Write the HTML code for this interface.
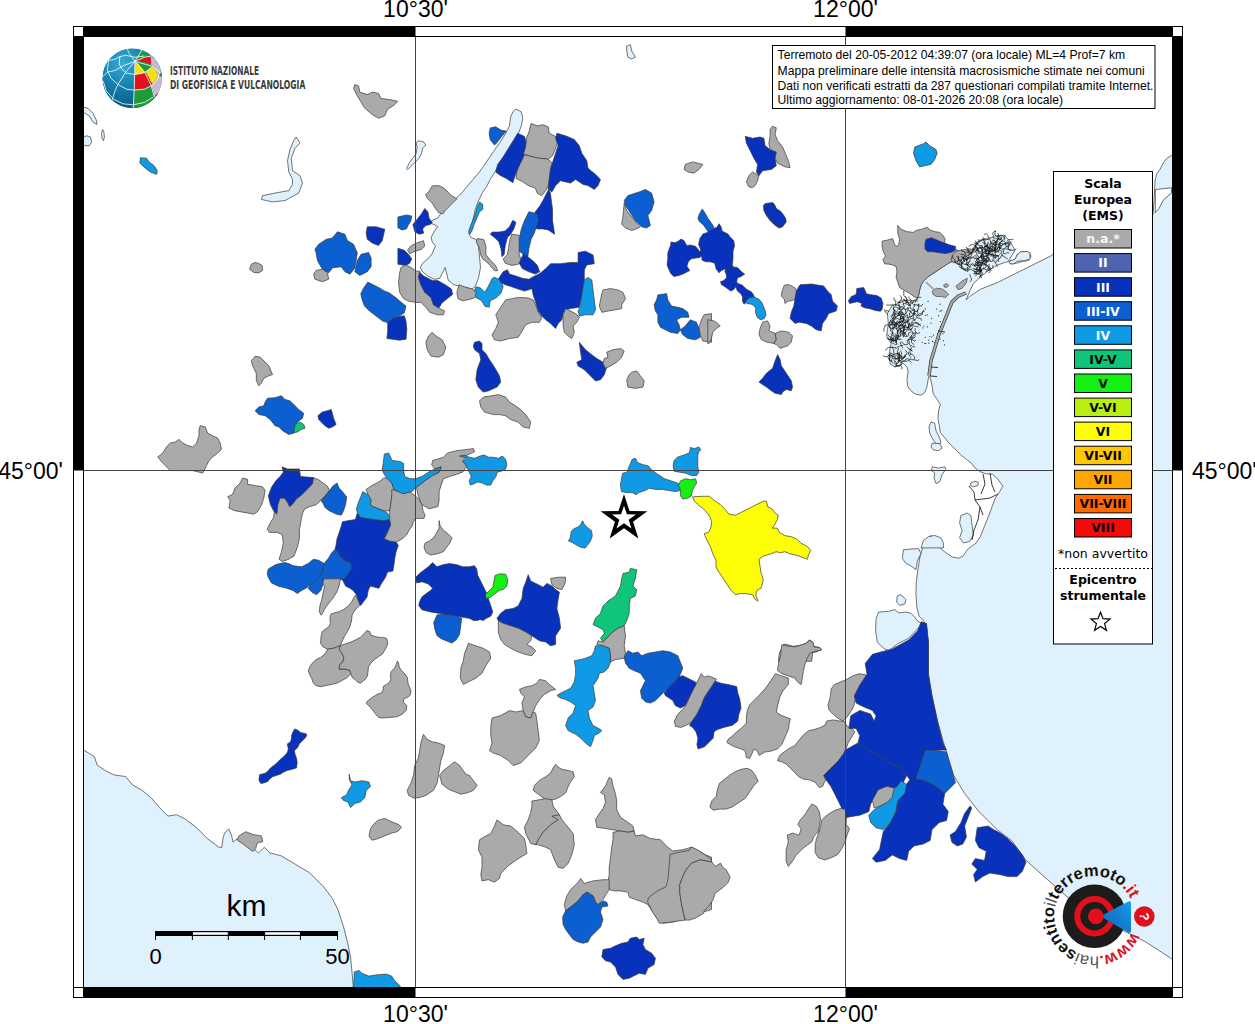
<!DOCTYPE html>
<html><head><meta charset="utf-8"><style>
html,body{margin:0;padding:0;background:#fff;width:1255px;height:1024px;overflow:hidden}
svg{position:absolute;left:0;top:0}
.na{fill:#aaaaaa}.ii{fill:#4f64b0}.iii{fill:#0832bc}.iii_iv{fill:#0c5fd0}.iv{fill:#109ae5}
.iv_v{fill:#10c47a}.v{fill:#14ef14}.v_vi{fill:#b9ef10}.vi{fill:#fdfd06}.lake,.sea{fill:#dff1fc}
#polys polygon,#sea polygon{stroke:#3a3a3a;stroke-width:0.7;stroke-linejoin:round}
.lab{font-family:"Liberation Sans",Arial,sans-serif;font-size:23px;fill:#000}
.dv{font-family:"DejaVu Sans",sans-serif}
.lg{font-family:"DejaVu Sans",sans-serif;font-size:12.5px;fill:#000}
</style></head><body>
<svg width="1255" height="1024" viewBox="0 0 1255 1024">
<defs><clipPath id="mc"><rect x="84" y="37" width="1088" height="950"/></clipPath></defs>
<g clip-path="url(#mc)">
<g id="sea">
<polygon class="sea" points="1185.0,140.0 1172.0,155.0 1166.5,158.7 1163.2,163.0 1160.0,169.4 1156.8,173.7 1155.1,180.1 1154.0,200.0 1153.0,215.0 1120.0,235.0 1080.0,248.0 1053.0,254.0 1050.4,256.1 1032.8,264.9 1015.3,273.6 997.8,282.4 980.2,289.4 969.7,296.4 966.2,299.9 969.7,291.2 973.2,284.1 980.2,277.1 989.0,270.1 997.8,264.9 1008.3,261.4 1015.0,250.0 1009.2,240.3 1003.9,235.1 990.8,237.7 976.7,242.1 975.0,249.1 966.2,256.1 959.2,257.8 954.0,260.5 948.7,263.1 943.4,266.6 938.2,270.1 932.9,273.6 927.6,277.1 924.1,280.6 921.5,284.1 919.8,289.4 918.9,294.7 917.1,298.2 917.3,301.1 910.3,300.2 899.7,301.1 896.2,304.6 892.7,304.6 887.4,313.4 888.3,323.9 886.6,336.2 891.0,343.3 889.2,353.8 890.1,364.3 891.7,364.7 895.2,367.0 903.4,363.5 907.0,367.0 908.1,371.7 907.0,378.8 907.5,385.8 910.5,390.5 915.2,394.0 921.0,395.2 924.5,392.8 926.9,387.0 928.1,379.9 929.2,374.1 929.8,376.4 931.6,383.4 933.3,394.0 937.4,399.9 940.4,404.5 938.6,410.4 938.0,418.6 939.2,425.6 940.4,432.7 944.5,437.4 948.0,442.1 952.7,446.7 957.4,451.4 962.1,456.1 966.7,459.6 971.4,463.2 974.9,467.8 979.6,471.4 985.5,473.7 992.5,474.3 997.5,478.7 1002.9,486.2 999.6,491.6 995.3,498.0 992.1,506.6 988.9,515.2 984.6,525.9 980.3,536.7 976.0,543.1 971.7,546.3 967.4,549.6 963.1,556.0 958.8,558.2 952.4,557.1 945.9,552.8 939.5,547.4 935.2,538.8 930.9,535.6 926.6,538.8 923.4,545.3 920.1,556.0 918.0,568.9 916.3,581.8 915.9,594.7 916.9,607.6 919.1,616.2 923.4,620.5 926.6,626.9 927.7,637.6 928.4,641.7 928.4,674.2 932.0,695.9 937.5,721.2 944.7,746.5 953.7,775.4 964.6,793.5 979.0,811.6 997.1,829.6 1011.6,840.5 1026.0,860.4 1044.1,876.6 1073.0,901.9 1109.2,923.6 1145.3,941.7 1170.6,958.0 1172.4,959.8 1185.0,962.0"/>
<polygon class="sea" points="80.0,749.6 83.0,749.6 94.3,756.6 97.2,765.1 105.7,770.8 114.2,775.0 125.5,776.5 132.6,785.0 142.5,790.6 151.0,797.7 159.5,807.6 168.0,816.1 176.5,814.7 185.0,818.9 196.3,827.4 207.6,838.8 218.9,847.3 221.8,847.3 223.0,838.0 224.6,833.1 228.8,828.9 231.7,835.9 233.0,842.0 237.3,838.8 247.3,844.4 258.6,852.9 264.3,847.3 270.0,852.9 281.2,855.8 295.4,864.3 309.6,872.8 323.7,886.9 332.2,898.2 337.9,909.6 343.5,926.6 347.8,943.6 350.6,957.7 352.0,971.9 353.5,990.0 80.0,990.0"/>
</g>
<g id="polys">
<polygon class="lake" points="296.2,137.0 300.0,143.2 295.0,148.2 291.3,158.2 292.5,170.7 300.0,175.7 302.5,183.1 298.7,193.1 285.0,200.6 272.5,201.9 261.3,199.4 262.6,195.6 275.0,193.1 288.8,190.6 292.5,184.4 292.5,179.4 288.8,171.9 287.5,160.7 290.0,149.5 293.7,140.7"/>
<polygon class="lake" points="83.0,107.1 88.0,108.3 93.0,113.3 96.7,120.8 96.7,124.5 93.0,122.0 89.2,115.8 83.0,112.1"/>
<polygon class="lake" points="83.0,137.0 86.7,135.8 90.5,137.0 91.7,142.0 89.2,145.7 84.2,145.7 83.0,143.2"/>
<polygon class="lake" points="102.5,129.5 103.9,132.0 104.4,137.0 103.5,140.7 102.0,138.3 101.5,133.3"/>
<polygon class="lake" points="516.0,109.0 521.3,111.8 522.8,118.3 521.3,125.8 518.1,134.4 513.8,141.9 507.4,151.5 500.9,162.3 495.6,170.9 490.2,179.5 487.0,185.9 482.7,192.3 478.4,200.9 475.2,209.5 473.0,220.3 470.9,228.9 468.7,233.2 470.9,237.4 476.2,239.6 478.4,246.0 479.5,256.8 480.5,267.5 478.4,278.3 475.2,286.8 471.9,289.0 462.3,286.8 453.7,284.7 448.3,280.4 446.2,271.8 445.1,267.5 443.0,271.8 439.7,278.3 434.4,279.3 427.9,276.1 422.6,271.8 420.4,267.5 422.6,263.2 427.9,258.9 432.2,253.6 435.4,246.0 432.2,241.7 431.1,237.4 434.4,231.0 437.6,226.7 434.4,224.6 431.1,223.5 432.2,220.3 437.6,218.1 443.0,210.6 448.3,205.2 453.7,200.9 458.0,196.6 462.3,192.3 466.6,187.0 473.0,179.5 479.5,171.9 484.8,164.4 489.1,158.0 493.4,151.5 498.8,144.0 505.2,134.4 509.5,125.8 510.6,117.2 512.8,111.8"/>
<polygon class="lake" points="418.3,140.8 423.6,141.9 425.8,145.1 422.6,148.3 421.5,153.7 419.3,158.0 416.1,161.2 412.9,164.4 407.5,169.8 406.4,168.7 409.7,162.3 412.9,158.0 416.1,153.7 417.2,147.2 416.1,143.0"/>
<polygon class="lake" points="626.7,46.0 630.4,44.7 631.7,51.0 635.4,57.2 631.7,58.9 627.9,57.2 626.7,51.0"/>
<polygon class="lake" points="1009.2,261.4 1015.3,259.6 1017.1,254.3 1022.3,251.7 1029.3,252.6 1031.1,256.1 1028.4,260.5 1022.3,261.4 1017.1,263.1 1011.8,264.0"/>
<polygon class="lake" points="931.0,421.9 934.7,423.2 936.0,430.7 939.7,438.1 940.9,443.1 937.2,444.4 933.5,440.6 929.7,433.2 929.0,426.9"/>
<polygon class="lake" points="932.2,443.1 939.7,443.6 942.2,448.1 938.5,450.6 933.5,450.1 931.0,446.9"/>
<polygon class="lake" points="932.2,466.8 938.5,468.1 944.7,466.8 945.9,469.3 942.2,474.3 939.7,481.8 936.0,483.5 934.0,478.1 934.7,473.1 931.5,470.6"/>
<polygon class="lake" points="960.9,515.5 967.1,513.0 970.9,515.5 972.1,525.4 973.4,535.4 969.6,541.6 963.4,542.9 959.6,537.9 962.1,530.4 959.6,522.9"/>
<polygon class="lake" points="923.5,540.4 928.5,536.7 934.7,535.4 940.9,537.9 943.4,542.9 943.4,547.9 921.0,547.9"/>
<polygon class="lake" points="970.9,483.0 974.6,481.3 978.4,482.3 977.9,485.5 973.4,486.8 970.4,485.5"/>
<polygon class="lake" points="878.6,612.1 888.6,611.3 894.8,609.6 898.5,612.8 906.0,612.1 911.0,613.3 914.8,617.1 917.3,620.8 922.2,623.8 908.5,638.3 898.5,643.3 888.6,650.7 883.6,648.3 877.3,642.0 875.6,630.8 876.1,618.3"/>
<polygon class="lake" points="897.3,595.9 901.0,594.6 906.0,599.6 904.8,603.9 899.8,605.4 896.6,602.1"/>
<polygon class="lake" points="903.5,549.7 918.5,548.5 921.0,553.5 917.3,561.0 916.0,569.7 911.0,566.0 906.0,563.5 902.3,558.5"/>
<polygon class="iv" points="140.4,157.7 146.6,158.2 149.1,161.9 154.1,165.7 157.3,170.7 156.6,174.4 150.3,171.9 145.4,168.2 139.9,163.2"/>
<polygon class="na" points="354.8,84.6 358.6,85.9 359.8,92.1 367.3,94.6 372.3,92.1 378.5,93.4 381.0,98.4 389.8,99.6 397.7,101.3 394.8,104.6 387.3,109.6 384.8,115.8 378.5,118.3 372.3,114.6 364.8,108.3 357.3,95.9 353.6,88.4"/>
<polygon class="na" points="251.3,264.2 255.1,262.5 258.8,263.5 262.1,265.5 262.6,270.4 258.8,272.9 253.8,272.4 249.6,269.2"/>
<polygon class="iii_iv" points="337.4,231.8 344.9,234.3 347.4,240.5 353.6,244.3 357.3,253.0 356.1,260.5 354.8,267.9 349.9,274.2 344.9,271.7 341.1,266.7 332.4,267.9 328.7,272.9 322.4,269.2 317.4,260.5 316.2,253.0 314.9,249.2 318.7,244.3 326.2,239.3 332.4,238.0"/>
<polygon class="iii_iv" points="361.1,254.2 368.6,252.5 371.1,258.0 371.1,266.7 367.3,271.7 359.8,275.4 354.8,271.7 357.3,260.5"/>
<polygon class="iii" points="367.3,226.8 376.0,226.8 384.8,229.3 382.3,240.5 378.5,245.5 372.3,243.0 367.3,239.3 366.1,233.0"/>
<polygon class="na" points="316.2,270.4 322.4,269.2 327.4,272.9 328.7,279.2 322.4,281.7 314.9,279.2 313.7,274.2"/>
<polygon class="na" points="432.2,185.9 438.7,185.5 444.0,188.1 448.3,192.3 451.5,195.6 456.9,198.8 453.7,202.0 449.4,206.3 445.1,210.6 443.0,213.8 438.7,212.8 435.4,208.5 432.2,203.1 426.8,197.7 425.8,194.5 429.0,191.3"/>
<polygon class="iii_iv" points="490.2,127.9 495.6,126.8 500.9,130.1 506.3,131.1 500.9,137.6 496.6,143.0 494.5,145.1 490.2,139.7 489.1,133.3"/>
<polygon class="iii" points="517.7,133.3 524.6,136.5 526.3,143.0 525.0,151.5 523.5,156.9 520.3,164.4 516.0,173.0 512.8,182.7 506.3,178.4 499.9,175.2 495.6,171.9 497.7,164.4 503.1,156.9 508.5,148.3 513.8,139.7"/>
<polygon class="na" points="531.0,123.6 537.4,125.8 542.8,124.7 548.2,126.8 549.3,133.3 555.7,136.5 557.9,140.8 555.7,148.3 552.5,155.8 548.2,159.1 537.4,158.0 528.9,155.8 523.5,153.7 525.6,147.2 526.7,137.6 528.9,132.2"/>
<polygon class="na" points="524.6,154.8 537.4,158.0 548.2,159.1 552.5,163.4 551.4,170.9 550.3,178.4 548.2,185.9 546.0,190.2 541.7,195.6 537.4,193.4 535.3,188.1 528.9,185.9 522.4,181.6 516.0,178.4 517.0,170.9 520.3,163.4"/>
<polygon class="iii" points="548.2,190.2 550.3,192.3 551.4,200.9 552.5,209.5 552.5,220.3 554.6,234.2 548.2,229.9 542.8,228.9 537.4,228.9 533.2,226.7 534.2,218.1 535.3,211.7 539.6,206.3 543.9,198.8"/>
<polygon class="iii_iv" points="528.9,211.7 537.4,213.8 538.5,220.3 536.4,226.7 534.2,233.2 531.0,239.6 528.9,248.2 527.8,256.8 523.5,254.6 518.1,250.3 519.2,239.6 521.3,228.9 524.6,220.3"/>
<polygon class="iv" points="479.5,202.0 482.7,204.2 482.7,209.5 479.5,211.7 477.3,217.0 474.1,224.6 471.9,231.0 469.8,234.2 468.7,231.0 471.9,222.4 475.2,213.8 477.3,206.3"/>
<polygon class="iii" points="512.8,220.3 516.0,222.4 513.8,228.9 510.6,234.2 507.4,237.4 505.2,246.0 504.2,254.6 502.0,256.8 500.9,248.2 498.8,241.7 494.5,237.4 490.2,234.2 492.3,232.1 498.8,232.1 505.2,231.0 509.5,226.7"/>
<polygon class="na" points="511.7,234.2 519.2,235.3 519.2,246.0 519.2,254.6 521.3,260.0 518.1,264.3 511.7,265.4 505.2,263.2 503.1,258.9 507.4,254.6 508.5,248.2 509.5,241.7"/>
<polygon class="iii" points="523.5,253.6 527.8,256.8 533.2,261.1 537.4,265.4 539.6,271.8 535.3,274.0 528.9,271.8 522.4,268.6 519.2,263.2"/>
<polygon class="na" points="477.3,238.5 483.8,239.6 485.9,246.0 485.9,254.6 490.2,260.0 495.6,265.4 497.7,270.7 494.5,270.7 488.1,263.2 482.7,258.9 480.5,254.6 479.5,248.2 476.2,241.7"/>
<polygon class="iv" points="494.5,277.2 500.9,280.4 503.1,286.8 500.9,293.3 496.6,297.6 490.2,300.8 489.1,307.2 484.8,306.2 481.6,300.8 476.2,297.6 474.1,291.1 476.2,286.8 480.5,287.9 484.8,292.2 488.1,286.8 490.2,282.6 492.3,278.3"/>
<polygon class="iii" points="503.1,271.8 507.4,269.7 509.5,274.0 516.0,276.1 522.4,278.3 528.9,279.3 534.2,280.4 537.4,284.7 531.0,289.0 524.6,291.1 518.1,289.0 511.7,286.8 505.2,284.7 500.9,282.6 498.8,278.3"/>
<polygon class="na" points="459.1,284.7 464.4,286.8 471.9,289.0 476.2,292.2 475.2,297.6 468.7,299.7 462.3,300.8 458.0,298.7 456.9,292.2"/>
<polygon class="iii" points="419.3,271.8 423.6,276.1 432.2,280.4 437.6,280.4 445.1,284.7 451.5,289.0 452.6,294.4 447.2,298.7 441.9,303.0 438.7,308.3 434.4,306.2 430.1,301.9 425.8,297.6 420.4,294.4 419.3,286.8 416.1,280.4 417.2,274.0"/>
<polygon class="iii" points="424.7,208.5 427.9,211.7 429.0,218.1 432.2,222.4 430.1,224.6 425.8,225.6 422.6,228.9 423.6,233.2 419.3,234.2 415.0,232.1 412.9,224.6 417.2,219.2 421.5,213.8"/>
<polygon class="iii_iv" points="402.1,216.0 406.4,214.9 411.8,216.0 410.7,221.3 408.6,224.6 406.4,228.9 402.1,229.9 397.9,227.8 397.9,217.0"/>
<polygon class="na" points="410.7,246.0 417.2,242.8 423.6,240.7 424.7,246.0 421.5,249.3 415.0,251.4 409.7,253.6 407.5,250.3"/>
<polygon class="iii" points="397.9,248.2 404.3,250.3 408.6,254.6 411.8,258.9 409.7,263.2 405.4,265.4 397.9,264.3"/>
<polygon class="iii" points="578.1,252.5 585.5,251.2 593.0,255.0 594.3,263.7 586.8,264.9 584.3,269.9 584.3,279.9 581.8,294.9 579.3,307.3 570.6,308.6 565.6,309.8 563.1,313.6 561.9,319.8 558.1,323.5 555.6,328.5 550.6,323.5 545.6,319.8 541.9,316.1 538.2,311.1 535.7,302.4 533.2,294.9 531.9,288.6 525.7,284.9 524.4,282.4 531.9,277.4 539.4,273.7 545.6,268.7 550.6,263.7 560.6,263.7 570.6,262.4 578.1,262.4"/>
<polygon class="iv" points="588.0,277.4 591.8,279.9 593.0,289.9 594.3,299.9 595.5,309.8 593.0,314.8 585.5,314.8 579.3,316.1 578.1,311.1 580.6,306.1 581.8,294.9 584.3,279.9"/>
<polygon class="na" points="603.0,289.9 610.5,288.6 618.0,289.9 623.0,292.4 625.5,298.6 621.7,304.8 621.7,308.6 615.5,309.8 608.0,311.1 601.8,312.3 599.3,306.1 600.5,299.9 601.8,293.6"/>
<polygon class="na" points="505.7,299.9 518.2,297.4 528.2,297.9 533.2,299.9 535.7,304.8 538.2,312.3 541.9,317.3 539.4,322.3 531.9,322.3 525.7,324.8 520.7,333.5 518.2,337.3 509.5,338.5 500.7,341.0 494.5,339.8 492.0,334.8 495.8,328.5 498.3,322.3 495.8,314.8 500.7,307.3 503.2,303.6"/>
<polygon class="na" points="565.6,308.6 570.6,311.1 575.6,313.6 579.3,317.3 576.8,322.3 573.1,326.0 574.3,332.3 571.8,338.5 568.1,336.0 564.3,332.3 563.1,324.8 563.1,314.8"/>
<polygon class="na" points="401.0,267.4 406.0,264.9 411.0,267.4 416.0,271.2 419.7,271.2 418.4,277.4 420.9,284.9 424.7,292.4 430.9,297.4 433.4,304.8 439.6,308.6 444.6,311.1 443.4,314.8 437.2,314.8 429.7,312.3 425.9,307.3 420.9,302.4 416.0,302.4 408.5,301.1 403.5,298.6 399.7,292.4 398.5,282.4 399.7,272.4"/>
<polygon class="na" points="432.2,332.3 435.9,336.0 442.1,339.8 445.9,347.2 443.4,354.7 438.4,357.2 430.9,356.0 427.2,349.7 425.9,342.3 428.4,336.0"/>
<polygon class="iii" points="474.6,342.3 479.5,341.0 482.0,343.5 482.0,349.7 485.8,353.5 489.5,359.7 494.5,367.2 499.5,375.9 500.7,382.2 497.0,387.1 488.3,390.9 483.3,392.1 478.3,387.1 475.8,379.7 477.1,369.7 480.8,359.7 479.5,353.5 474.6,349.7 473.3,346.0"/>
<polygon class="na" points="483.3,397.1 490.8,395.9 498.3,394.6 505.7,397.1 509.5,402.1 515.7,405.9 520.7,409.6 525.7,414.6 530.7,422.1 529.4,428.3 523.2,427.1 518.2,422.1 510.7,419.6 505.7,415.8 499.5,414.6 493.3,414.6 484.5,412.1 480.8,407.1 479.5,400.9"/>
<polygon class="iii" points="579.3,342.3 585.5,349.7 591.8,354.7 596.8,358.5 603.0,362.2 606.7,367.2 604.3,374.7 600.5,379.7 595.5,380.9 590.5,375.9 584.3,369.7 578.1,365.9 576.8,362.2 581.8,359.7 580.6,352.2"/>
<polygon class="na" points="606.7,352.2 613.0,349.7 620.5,348.5 624.2,351.0 621.7,357.2 616.7,362.2 610.5,365.9 605.5,368.4 603.0,363.5 604.3,358.5 608.0,357.2"/>
<polygon class="na" points="631.7,372.2 636.7,370.9 640.4,375.9 644.2,380.9 642.9,387.1 635.4,388.4 627.9,387.1 626.7,379.7 629.2,374.7"/>
<polygon class="iii_iv" points="657.9,294.9 666.6,293.6 667.8,299.9 671.6,306.1 677.8,307.3 682.8,308.6 687.8,312.3 689.0,317.3 681.6,317.3 676.6,319.8 679.1,324.8 680.3,329.8 677.8,333.5 670.3,332.3 665.4,329.8 660.4,327.3 657.9,322.3 657.9,314.8 655.4,311.1 654.1,304.8 656.6,299.9"/>
<polygon class="iii_iv" points="690.3,319.8 696.5,322.3 699.0,328.5 700.3,337.3 695.3,339.8 687.8,338.5 682.8,334.8 680.3,329.8 685.3,326.0"/>
<polygon class="na" points="704.0,314.8 711.5,313.6 711.5,342.3 702.8,341.0 700.3,334.8 699.0,327.3 701.5,319.8"/>
<polygon class="iii" points="556.9,133.3 565.6,135.8 574.3,139.5 579.3,145.7 581.8,153.2 586.8,160.7 588.0,168.2 595.5,174.4 600.5,179.4 598.0,185.6 594.3,189.4 588.0,185.6 583.1,184.4 575.6,179.4 570.6,183.1 565.6,181.9 560.6,180.7 555.6,185.6 551.9,191.9 548.1,189.4 549.4,176.9 550.6,168.2 553.1,160.7 555.6,153.2 558.1,145.7 555.6,138.3"/>
<polygon class="na" points="624.2,203.1 626.7,210.6 631.7,216.8 636.7,223.1 640.4,226.8 635.4,229.3 631.7,230.5 625.5,228.0 621.7,224.3 623.0,215.6"/>
<polygon class="iii_iv" points="627.9,195.6 639.2,191.9 645.4,189.4 651.6,193.1 654.1,201.9 651.6,210.6 647.9,215.6 650.4,225.5 646.6,228.0 641.7,226.8 635.4,220.6 630.4,213.1 625.5,205.6 624.2,200.6"/>
<polygon class="na" points="685.3,164.4 692.8,161.9 702.8,164.4 699.0,169.4 694.0,173.2 687.8,171.9 684.1,169.4"/>
<polygon class="iii" points="745.2,136.3 752.6,138.3 760.1,137.0 763.9,138.3 765.1,145.7 770.1,149.5 776.3,152.0 775.1,158.2 776.3,165.7 771.4,169.4 762.6,170.7 758.9,175.7 756.4,171.9 757.6,164.4 753.9,158.2 750.2,150.7 746.4,143.2"/>
<polygon class="na" points="772.6,126.3 776.3,127.8 775.1,134.5 777.6,140.7 782.6,147.0 786.3,155.7 788.8,161.9 790.1,167.7 785.1,166.9 777.6,163.2 775.1,158.2 776.3,152.0 770.1,149.5 768.9,143.2 770.1,135.8 770.1,129.5"/>
<polygon class="na" points="752.6,171.9 758.9,175.7 757.6,180.7 755.1,185.6 752.6,187.6 748.9,186.9 746.4,181.9 748.9,175.7"/>
<polygon class="iii" points="765.1,203.6 772.6,202.6 775.1,205.6 776.3,210.6 781.3,214.3 785.1,218.1 786.3,221.8 782.6,226.8 778.8,228.0 773.8,224.3 770.1,220.6 766.4,215.6 763.9,210.6 763.4,205.6"/>
<polygon class="iv" points="914.8,147.0 923.5,143.7 926.0,142.0 929.7,145.7 936.0,149.5 937.2,153.2 934.7,159.5 931.0,164.4 924.7,165.7 919.7,166.9 916.0,160.7 913.5,153.2"/>
<polygon class="na" points="897.8,225.4 900.5,228.9 906.6,231.6 913.6,232.4 915.4,230.7 922.4,228.9 927.6,227.2 929.4,229.8 934.7,231.6 939.9,232.4 943.4,235.9 945.2,239.4 944.3,242.9 952.2,246.5 955.7,249.1 959.2,251.7 966.2,250.8 971.5,250.0 975.0,249.1 973.2,252.6 966.2,256.1 959.2,257.8 953.9,260.5 948.7,263.1 943.4,266.6 938.2,270.1 932.9,273.6 927.6,277.1 924.1,280.6 921.5,284.1 919.8,289.4 918.9,294.7 917.1,298.2 913.6,296.4 909.2,292.9 904.0,290.3 899.6,287.6 897.8,282.4 896.1,277.1 897.0,271.9 896.1,266.6 892.6,264.9 888.2,264.0 884.7,264.0 882.9,259.6 885.6,256.1 882.9,250.8 882.1,244.7 882.1,241.2 886.5,240.3 890.0,239.4 892.6,238.6 894.3,243.8 896.1,246.5 898.7,244.7 899.6,239.4 897.8,233.3"/>
<polygon class="iii" points="925.9,239.4 931.2,237.7 935.5,239.4 941.7,242.1 948.7,244.7 955.7,246.5 954.8,250.8 950.4,252.6 945.2,253.5 938.2,252.6 932.9,251.7 927.6,251.7 925.0,249.1 925.0,243.8"/>
<polygon class="iii" points="856.7,288.5 863.7,287.6 865.4,291.2 866.3,293.8 870.7,294.7 876.8,295.5 881.2,298.2 882.9,303.4 882.1,309.6 880.3,311.3 875.1,310.4 869.8,308.7 864.5,307.8 861.0,306.1 861.9,303.4 857.5,301.7 854.0,302.5 849.6,303.4 848.4,300.8 851.4,296.4 855.8,294.7 856.7,291.2"/>
<polygon class="iii_iv" points="702.2,209.0 704.4,212.0 708.1,218.6 711.8,223.7 714.0,227.3 711.8,230.3 708.8,233.2 706.6,229.5 703.0,224.4 699.3,221.5 697.9,218.6 699.3,214.2"/>
<polygon class="iii" points="719.1,223.7 721.3,227.3 722.0,231.0 724.9,232.5 727.9,233.9 730.1,236.9 733.7,240.5 734.5,245.7 733.0,251.5 733.0,258.8 732.3,264.7 733.7,269.1 729.3,269.8 724.9,269.1 721.3,270.6 719.1,272.8 716.2,269.1 714.7,263.2 710.3,261.8 705.9,261.8 702.2,260.3 701.5,255.9 698.6,254.4 700.8,250.0 698.6,244.2 700.0,238.3 703.0,233.9 707.4,232.5 710.3,231.0 713.2,228.8 716.9,227.3"/>
<polygon class="iii" points="670.8,242.0 675.2,242.7 678.1,241.3 681.0,239.1 683.9,240.5 686.9,245.7 690.5,244.9 695.7,246.4 698.6,250.0 701.5,254.4 700.0,257.4 695.7,258.1 691.3,258.8 688.3,261.8 686.9,266.2 689.8,270.6 686.9,272.0 682.5,274.2 678.1,275.7 673.7,276.4 670.8,273.5 668.6,269.1 667.1,264.7 667.8,258.8 667.8,253.0 669.3,248.6 670.8,244.9"/>
<polygon class="iii" points="726.4,267.6 730.8,268.4 733.7,266.9 737.4,267.6 741.1,271.3 744.7,274.2 741.1,276.4 737.4,277.9 736.7,281.5 738.1,284.5 735.9,286.7 733.7,289.6 730.8,291.1 727.9,288.9 724.9,286.7 721.3,284.5 720.6,281.5 723.5,280.8 726.4,277.9 726.4,274.9 724.9,271.3"/>
<polygon class="iii" points="738.1,283.7 741.1,284.5 744.0,286.7 746.9,289.6 751.3,291.8 753.5,294.7 754.2,297.6 749.8,299.1 747.6,301.3 744.0,304.2 742.5,301.3 742.5,296.9 741.1,294.0 737.4,291.1 735.9,286.7"/>
<polygon class="iv" points="749.8,297.6 754.2,296.9 758.6,299.1 761.6,302.0 763.8,307.2 765.2,310.8 766.0,315.2 763.8,318.9 760.1,319.6 757.2,317.4 755.7,313.0 755.7,308.6 754.2,305.7 751.3,304.2 746.9,303.5 745.5,301.3"/>
<polygon class="iii" points="766.0,204.6 768.9,203.5 773.3,203.2 774.7,206.1 776.9,209.0 780.6,211.2 783.5,214.9 785.7,218.6 785.7,222.2 782.8,224.4 780.6,227.3 778.4,226.6 774.7,223.0 771.8,220.8 768.9,216.4 766.0,213.4 764.2,208.3"/>
<polygon class="na" points="784.3,285.2 787.9,284.5 791.6,285.9 795.2,288.1 796.7,291.1 796.0,298.4 792.3,300.6 787.9,301.3 785.0,303.5 784.3,299.1 781.3,296.2 782.1,291.1"/>
<polygon class="iii" points="800.0,284.8 811.3,284.0 823.7,286.0 827.5,291.0 831.2,294.7 832.5,301.0 837.4,306.0 836.2,311.0 828.7,313.4 826.2,318.4 822.5,323.4 821.2,330.9 816.2,329.7 811.3,325.9 806.3,323.4 798.8,322.2 795.0,323.4 790.1,318.4 791.3,312.2 793.8,306.0 795.0,298.5 796.3,291.0"/>
<polygon class="na" points="762.6,322.2 767.6,320.9 770.1,325.9 768.9,330.9 775.1,333.4 776.3,339.6 773.8,343.4 766.4,342.1 761.4,339.6 758.9,334.6 760.1,328.4"/>
<polygon class="na" points="775.1,333.4 781.3,330.9 788.8,332.2 792.5,335.9 791.3,342.1 787.6,345.9 783.8,347.1 780.1,348.4 776.3,344.6 773.8,343.4 776.3,339.6"/>
<polygon class="na" points="707.8,319.7 714.0,320.9 717.7,323.4 720.2,325.9 716.5,328.4 712.7,332.2 711.5,338.4 709.0,343.4 707.8,343.4"/>
<polygon class="iii" points="777.6,354.6 780.1,359.6 781.3,365.8 786.3,373.3 791.3,380.8 792.5,387.0 791.3,390.8 786.3,389.5 782.6,392.0 781.3,394.5 775.1,393.3 771.4,390.8 766.4,387.0 762.6,384.5 758.9,382.0 762.6,378.3 766.4,373.3 772.6,368.3 775.1,360.8"/>
<polygon class="na" points="255.1,356.3 260.1,357.1 265.1,362.1 268.8,365.8 272.5,374.5 268.8,375.8 263.8,378.3 261.3,383.3 258.8,385.8 256.3,380.8 256.3,373.3 252.6,365.8 251.3,360.8"/>
<polygon class="iii_iv" points="267.6,398.2 275.0,397.7 281.3,395.7 285.0,399.5 290.0,400.7 295.0,405.7 298.7,409.5 303.7,413.2 302.5,418.2 297.5,421.9 295.0,426.9 293.7,433.2 288.8,434.4 282.5,430.7 278.8,426.9 275.0,425.7 270.1,419.4 265.1,415.7 258.8,414.5 255.1,410.7 258.8,407.0 263.8,405.7 265.1,402.0"/>
<polygon class="iv_v" points="295.0,424.4 300.0,421.9 303.7,424.4 305.0,428.2 301.2,429.4 297.5,431.9 293.7,432.7 294.5,428.2"/>
<polygon class="iii" points="322.4,412.0 327.4,410.7 331.2,409.5 332.4,413.2 333.6,418.2 336.1,424.4 332.4,426.9 328.7,428.2 324.9,425.7 321.2,421.9 318.7,419.4 317.9,415.7"/>
<polygon class="na" points="200.2,425.7 205.2,426.9 207.7,433.2 212.7,435.7 217.7,438.1 220.2,443.1 221.4,449.4 217.7,453.1 212.7,456.9 208.9,460.6 206.5,465.6 202.7,473.1 197.7,471.8 192.7,470.6 185.3,470.6 177.8,470.6 170.3,470.6 165.3,465.6 161.6,461.8 157.8,456.9 162.8,453.1 166.5,446.9 170.3,443.1 175.3,441.9 179.0,439.4 182.8,443.1 187.7,445.6 192.7,446.9 196.5,443.1 199.0,435.7 199.0,429.4"/>
<polygon class="na" points="242.6,478.1 247.6,479.3 247.6,484.3 255.1,485.5 262.6,486.8 265.1,490.5 263.8,498.0 261.3,505.5 257.6,511.7 253.8,514.2 247.6,513.0 240.1,511.7 233.9,510.5 228.9,508.0 230.1,500.5 227.7,496.8 232.6,494.3 235.1,488.0 240.1,483.0"/>
<polygon class="na" points="313.4,477.6 318.8,479.8 323.1,483.0 327.4,486.2 329.5,490.5 325.2,495.9 320.9,500.2 316.6,504.5 310.2,506.6 304.8,508.8 302.6,513.1 301.6,517.4 300.5,523.8 299.4,530.2 299.4,538.8 297.3,547.4 294.0,556.0 288.7,559.3 282.2,561.4 279.0,559.3 281.2,552.8 283.3,543.1 282.2,534.5 276.9,532.4 269.3,532.4 267.2,529.2 270.4,522.7 273.6,517.4 274.7,508.8 276.9,502.3 280.1,498.0 284.4,498.0 287.6,502.3 289.8,506.6 293.0,503.4 296.2,499.1 301.6,494.8 306.9,489.4 312.3,484.0"/>
<polygon class="iii" points="282.2,466.9 287.6,469.0 299.4,469.0 300.5,476.5 313.4,477.6 312.3,484.0 306.9,489.4 301.6,494.8 296.2,499.1 293.0,503.4 289.8,506.6 287.6,502.3 284.4,498.0 280.1,498.0 277.9,504.5 276.9,514.1 273.6,510.9 270.4,504.5 268.3,495.9 271.5,487.3 275.8,480.8 280.1,476.5 283.3,472.2"/>
<polygon class="iii_iv" points="337.0,483.0 339.2,488.3 342.4,491.6 346.7,496.9 345.6,504.5 343.5,510.9 341.3,515.2 336.0,514.1 329.5,510.9 325.2,507.7 323.1,503.4 320.9,500.2 325.2,495.9 329.5,490.5 332.7,486.2"/>
<polygon class="iii_iv" points="268.3,568.9 275.8,564.6 284.4,562.5 288.7,563.6 293.0,565.7 301.6,566.8 308.0,563.6 313.4,559.3 318.8,560.3 324.1,563.6 323.1,568.9 320.9,575.4 316.6,579.7 311.2,584.0 305.9,588.3 301.6,590.4 297.3,593.6 293.0,590.4 286.5,588.3 277.9,586.1 271.5,582.9 268.3,577.5 267.2,573.2"/>
<polygon class="iii_iv" points="334.9,549.6 338.1,551.7 340.2,556.0 344.5,560.3 351.0,562.5 352.1,567.9 348.8,573.2 345.6,577.5 342.4,579.7 338.1,579.7 333.8,578.6 329.5,578.6 326.3,579.7 323.1,584.0 320.9,590.4 316.6,594.7 312.3,592.6 308.0,588.3 311.2,584.0 316.6,579.7 320.9,575.4 323.1,568.9 324.1,563.6 328.4,558.2 331.7,552.8"/>
<polygon class="iii" points="357.4,513.1 360.7,517.4 367.1,518.4 374.6,519.5 383.2,520.6 389.7,519.5 390.7,524.9 387.5,532.4 384.3,538.8 389.7,541.0 396.1,542.1 398.3,545.3 396.1,551.7 395.0,557.1 394.0,564.6 392.9,571.1 387.5,572.1 385.4,577.5 381.1,584.0 378.9,588.3 370.3,586.1 368.2,590.4 367.1,596.9 363.9,601.2 360.7,605.5 358.5,601.2 356.4,594.7 353.1,590.4 349.9,588.3 345.6,586.1 342.4,579.7 345.6,577.5 348.8,573.2 352.1,567.9 351.0,562.5 344.5,560.3 340.2,556.0 338.1,551.7 334.9,549.6 336.0,545.3 337.0,538.8 339.2,532.4 341.3,526.0 342.4,521.7 348.8,520.6 355.3,519.5"/>
<polygon class="iv" points="362.8,491.6 368.2,494.8 371.4,500.2 370.3,504.5 373.6,506.6 378.9,508.8 384.3,510.9 388.6,514.1 389.7,519.5 383.2,520.6 374.6,519.5 367.1,518.4 360.7,517.4 357.4,513.1 356.4,508.8 358.5,502.3 360.7,496.9"/>
<polygon class="na" points="366.0,489.4 372.5,485.1 378.9,481.9 384.3,477.6 387.5,478.7 391.8,483.0 394.0,489.4 391.8,495.9 390.7,504.5 389.7,510.9 384.3,510.9 378.9,508.8 373.6,506.6 370.3,504.5 371.4,500.2 368.2,494.8"/>
<polygon class="na" points="391.8,489.4 398.3,491.6 404.7,493.7 409.0,491.6 415.5,495.9 419.8,500.2 421.9,504.5 423.0,510.9 425.1,515.2 424.0,518.4 415.5,518.4 413.3,521.7 412.2,526.0 409.0,530.2 406.9,534.5 403.6,537.8 400.4,539.9 396.1,542.1 389.7,541.0 384.3,538.8 387.5,532.4 390.7,524.9 389.7,519.5 389.7,510.9 390.7,504.5 391.8,495.9"/>
<polygon class="iv" points="384.3,454.0 388.6,452.9 390.7,457.2 391.8,460.4 400.4,461.5 403.6,463.6 403.6,470.1 404.7,476.5 410.1,478.7 415.5,478.7 415.5,487.3 412.2,491.6 406.9,492.6 402.6,493.7 398.3,491.6 394.0,489.4 391.8,483.0 387.5,478.7 384.3,474.4 382.1,470.1 383.2,463.6"/>
<polygon class="na" points="432.6,460.4 436.9,459.3 443.4,457.2 447.7,452.9 456.3,450.7 464.9,449.7 473.5,448.6 474.5,451.8 467.0,455.0 462.7,461.5 467.0,465.8 462.7,472.2 456.3,474.4 449.8,476.5 443.4,478.7 441.2,485.1 439.1,491.6 439.1,500.2 438.0,506.6 433.7,507.7 429.4,508.8 425.1,506.6 421.9,504.5 419.8,500.2 417.6,493.7 416.5,487.3 419.8,485.1 426.2,479.8 432.6,475.5 439.1,472.2 441.2,466.9 434.8,469.0 431.6,464.7 432.6,461.5"/>
<polygon class="iv" points="415.5,478.7 421.9,476.5 428.3,472.2 434.8,469.0 441.2,466.9 439.1,472.2 432.6,475.5 426.2,479.8 421.9,483.0 417.6,486.2 415.5,487.3"/>
<polygon class="iv" points="459.5,456.1 464.9,455.0 469.2,457.2 474.5,458.3 479.9,456.1 484.2,455.0 488.5,457.2 492.8,457.2 498.2,458.3 502.5,456.1 505.7,459.3 506.8,464.7 505.7,469.0 501.4,471.2 497.1,472.2 496.0,476.5 492.8,480.8 490.7,485.1 486.4,485.1 482.1,483.0 477.8,481.9 473.5,484.0 470.2,485.1 469.2,480.8 471.3,476.5 469.2,472.2 467.0,467.9 464.9,463.6 462.7,461.5 467.0,458.3"/>
<polygon class="na" points="439.1,520.6 440.2,526.0 443.4,530.2 448.8,534.5 452.0,537.8 449.8,543.1 446.6,547.4 443.4,551.7 436.9,553.9 430.5,555.0 426.2,552.8 424.0,547.4 425.1,543.1 429.4,541.0 433.7,537.8 436.9,532.4 439.1,528.1"/>
<polygon class="iii" points="432.6,562.5 436.9,566.8 443.4,564.6 449.8,563.6 456.3,564.6 462.7,566.8 469.2,566.8 474.5,565.7 476.7,568.9 477.8,575.4 481.0,581.8 484.2,588.3 486.4,592.6 488.5,599.0 490.7,605.5 492.8,611.9 490.7,616.2 486.4,618.3 483.1,620.5 479.9,619.4 477.8,620.5 473.5,620.5 469.2,618.3 462.7,617.3 456.3,616.2 449.8,615.1 443.4,614.0 436.9,613.0 430.5,611.9 421.9,609.8 418.7,605.5 419.8,601.2 421.9,596.9 426.2,593.6 430.5,590.4 432.6,588.3 428.3,584.0 421.9,581.8 416.5,582.9 415.5,577.5 419.8,573.2 424.0,570.0 428.3,566.8"/>
<polygon class="v" points="495.0,575.4 500.3,573.7 505.7,574.3 507.9,579.7 506.8,586.1 503.6,589.3 499.3,590.4 495.0,593.6 490.7,596.9 486.4,599.0 485.3,594.7 489.6,590.4 492.8,587.2 493.9,581.8"/>
<polygon class="iii_iv" points="436.9,615.1 443.4,614.0 449.8,615.1 456.3,616.2 461.7,618.3 460.6,626.9 459.5,634.5 456.3,639.8 452.0,643.1 446.6,640.9 441.2,638.8 436.9,635.5 434.8,629.1 433.7,622.6"/>
<polygon class="iii" points="528.2,574.7 530.7,580.9 535.7,583.4 543.1,587.2 546.9,583.4 551.9,585.9 555.6,589.6 559.4,592.1 558.1,599.6 556.9,608.4 559.4,618.3 560.6,628.3 555.6,635.8 555.6,644.5 550.6,645.8 545.6,642.0 539.4,640.8 531.9,635.8 525.7,632.0 518.2,628.3 510.7,625.8 503.2,623.3 498.3,620.8 497.0,618.3 500.7,613.3 505.7,609.6 513.2,608.4 518.2,605.9 521.9,598.4 523.2,588.4 525.7,582.2"/>
<polygon class="na" points="550.6,578.4 558.1,577.2 565.6,577.2 565.1,583.4 561.9,589.6 556.9,588.4 551.9,584.7"/>
<polygon class="na" points="498.3,620.8 503.2,623.3 510.7,625.8 518.2,628.3 525.7,632.0 531.9,635.8 530.7,640.8 526.9,644.5 531.9,647.0 535.7,650.7 531.9,655.7 525.7,654.5 518.2,652.0 510.7,648.3 504.5,644.5 500.7,639.5 498.3,632.0"/>
<polygon class="na" points="468.3,643.3 475.8,645.8 483.3,648.3 489.5,652.0 490.8,658.2 485.8,665.7 482.0,673.2 475.8,678.2 468.3,681.9 463.3,684.4 460.3,678.2 460.8,668.2 463.3,660.7 464.6,653.2 467.1,647.0"/>
<polygon class="iv_v" points="630.4,568.4 636.7,569.7 635.4,578.4 632.9,585.9 636.7,589.6 635.4,595.9 630.4,598.4 629.2,605.9 629.2,613.3 626.7,620.8 624.2,625.8 618.0,628.3 613.0,632.0 608.0,637.0 603.0,642.0 600.5,638.3 604.3,633.3 603.0,629.5 598.0,627.1 593.0,624.6 595.5,618.3 600.5,613.3 603.0,605.9 608.0,600.9 615.5,595.9 618.0,590.9 620.5,585.9 621.7,578.4 623.0,573.4 629.2,572.2"/>
<polygon class="na" points="624.2,625.8 625.5,635.8 624.2,645.8 625.5,653.2 624.2,658.2 615.5,659.5 610.5,662.0 610.5,655.7 609.2,648.3 603.0,645.8 596.8,644.5 598.0,640.8 603.0,642.0 608.0,637.0 613.0,632.0 618.0,628.3"/>
<polygon class="iv" points="595.5,645.8 603.0,645.8 609.2,648.3 610.5,655.7 610.5,662.0 608.0,668.2 604.3,671.9 599.3,673.2 598.0,678.2 593.0,685.7 594.3,693.1 595.5,700.6 593.0,706.9 588.0,710.6 589.3,718.1 593.0,725.6 598.0,728.1 601.8,730.6 599.3,733.1 594.3,735.5 593.0,740.5 590.5,746.8 585.5,743.0 580.6,738.0 575.6,734.3 568.1,730.6 565.6,725.6 568.1,718.1 573.1,713.1 575.6,705.6 570.6,701.9 565.6,699.4 560.6,698.1 556.9,695.6 560.6,693.1 565.6,690.7 570.6,688.2 574.3,681.9 575.6,674.4 575.6,668.2 574.3,660.7 580.6,659.5 585.5,658.2 591.8,655.7 594.3,650.7"/>
<polygon class="iii_iv" points="627.9,650.7 632.9,653.2 637.9,652.0 641.7,655.7 647.9,653.2 655.4,652.0 662.9,650.7 670.3,652.0 677.8,655.7 680.3,662.0 682.8,668.2 680.3,674.4 677.8,679.4 670.3,685.7 665.4,690.7 660.4,695.6 655.4,700.6 650.4,703.1 645.4,701.9 641.7,698.1 640.4,690.7 642.9,685.7 645.4,680.7 640.4,673.2 634.2,670.7 629.2,668.2 625.5,663.2 624.2,657.0"/>
<polygon class="iii" points="677.8,676.9 682.8,675.7 690.3,679.4 695.3,681.9 697.8,684.4 694.0,689.4 691.5,695.6 687.8,700.6 685.3,705.6 680.3,708.1 675.3,705.6 672.8,700.6 665.4,695.6 664.1,693.1 670.3,685.7 677.8,679.4"/>
<polygon class="na" points="539.4,679.4 545.6,680.7 549.4,684.4 555.6,689.4 550.6,690.7 544.4,694.4 540.7,698.1 535.7,705.6 533.2,711.9 530.7,718.1 525.7,716.8 523.2,710.6 521.9,703.1 524.4,696.9 520.7,693.1 519.5,689.4 525.7,686.9 531.9,685.7 536.9,683.2"/>
<polygon class="na" points="509.5,710.6 515.7,711.9 523.2,710.6 525.7,716.8 530.7,718.1 533.2,711.9 535.7,713.1 536.9,720.6 538.2,730.6 539.4,740.5 535.7,748.0 530.7,753.0 525.7,758.0 520.7,763.0 513.2,765.5 508.2,760.5 500.7,755.5 493.3,753.0 489.5,750.5 492.0,743.0 490.8,735.5 490.8,725.6 492.0,718.1 500.7,715.6"/>
<polygon class="na" points="423.4,734.3 427.2,739.3 432.2,741.8 438.4,743.0 444.6,745.5 443.4,753.0 440.9,760.5 439.6,768.0 438.4,775.5 437.2,782.9 433.4,790.4 425.9,795.4 418.4,797.9 413.5,797.9 408.5,795.4 407.2,790.4 411.0,782.9 413.5,775.5 414.7,765.5 418.4,758.0 419.7,750.5 420.9,743.0"/>
<polygon class="na" points="454.6,761.7 459.6,765.5 463.3,770.5 465.8,774.2 469.6,775.5 473.3,780.4 477.1,785.4 473.3,790.4 467.1,792.9 460.8,794.2 454.6,791.7 448.4,789.2 442.1,784.2 439.6,775.5 443.4,770.5 448.4,766.7"/>
<polygon class="na" points="555.6,764.2 559.4,768.0 561.9,769.2 568.1,770.5 573.1,771.7 574.3,776.7 570.6,781.7 568.1,786.7 565.6,792.9 560.6,796.6 555.6,799.1 548.1,800.9 543.1,797.9 538.2,794.2 533.2,790.4 534.4,785.4 539.4,780.4 545.6,776.7 550.6,773.0 553.1,768.0"/>
<polygon class="iv" points="632.2,459.3 635.5,458.3 637.6,462.6 643.0,464.7 648.3,465.8 651.6,470.1 658.0,474.4 664.5,478.7 670.9,480.8 677.4,483.0 681.7,486.2 680.6,490.5 675.2,491.6 668.8,490.5 662.3,489.4 655.9,489.4 649.4,488.3 645.1,490.5 638.7,492.6 636.5,494.8 632.2,492.6 625.8,492.6 621.5,491.6 620.4,485.1 621.5,478.7 622.6,473.3 626.9,472.2 629.0,466.9"/>
<polygon class="iv" points="690.2,447.5 694.5,448.6 698.8,446.9 701.0,449.7 698.8,451.8 697.8,455.0 697.8,461.5 697.8,466.9 698.8,472.2 696.7,475.5 691.3,475.5 686.0,473.3 679.5,472.2 674.1,471.2 673.1,465.8 674.1,460.4 677.4,457.2 683.8,455.0 689.2,452.9 690.2,449.7"/>
<polygon class="v" points="680.6,480.8 686.0,478.7 690.2,479.8 695.6,478.7 696.7,483.0 694.5,486.2 692.4,490.5 691.3,495.9 688.1,498.0 682.7,499.1 680.6,495.9 680.6,490.5 678.4,485.1"/>
<polygon class="vi" points="692.4,496.9 701.0,496.3 709.6,496.3 713.9,500.2 720.3,504.5 724.6,508.8 728.9,514.1 735.4,515.2 741.8,512.0 748.3,508.8 754.7,505.5 763.3,501.2 766.5,501.2 767.6,506.6 771.9,508.8 775.1,513.1 778.3,515.2 777.3,519.5 774.0,526.0 771.9,528.1 777.3,528.1 779.4,532.4 784.8,535.6 791.2,536.7 796.6,538.8 800.9,543.1 805.2,545.3 808.4,547.4 810.6,550.7 808.4,555.0 807.4,559.3 802.0,557.1 795.5,555.0 790.2,553.9 784.8,551.7 780.5,552.8 776.2,551.7 770.8,553.9 763.3,556.0 759.0,559.3 760.1,566.8 761.2,573.2 763.3,579.7 761.2,588.3 756.9,590.4 755.8,594.7 757.9,601.2 754.7,599.0 752.6,594.7 746.1,593.6 739.7,593.6 735.4,594.7 731.1,590.4 726.8,584.0 722.5,577.5 718.2,571.1 716.0,566.8 716.0,560.3 712.8,553.9 710.7,547.4 707.4,541.0 705.3,536.7 704.2,533.5 708.5,532.4 710.7,528.1 711.7,521.7 709.6,516.3 707.4,513.1 703.1,508.8 697.8,504.5 694.5,501.2"/>
<polygon class="na" points="782.6,645.2 784.8,644.1 793.4,646.3 800.9,645.2 806.3,643.1 809.5,639.8 812.7,642.0 813.8,646.3 819.2,647.4 821.3,649.5 817.0,651.7 812.7,652.7 811.7,661.3 778.3,661.3 779.4,652.7 781.6,648.4"/>
<polygon class="na" points="701.2,673.7 704.5,676.9 708.8,675.9 716.3,679.1 713.1,684.5 708.8,690.9 704.5,697.4 701.2,706.0 696.9,714.5 691.6,722.1 686.2,725.3 680.8,727.4 675.5,726.4 674.4,721.0 677.6,714.5 681.9,710.2 686.2,704.9 689.4,697.4 692.6,690.9 695.9,684.5 699.1,678.0"/>
<polygon class="iii" points="715.2,681.2 721.7,683.4 728.1,684.5 736.7,686.6 737.8,693.1 739.9,699.5 741.0,708.1 738.8,714.5 737.8,721.0 732.4,725.3 723.8,727.4 717.4,729.6 714.1,731.7 713.1,738.2 708.8,742.5 704.5,746.8 698.0,748.9 696.9,744.6 698.0,738.2 695.9,731.7 692.6,727.4 689.4,725.3 691.6,722.1 696.9,714.5 701.2,706.0 704.5,697.4 708.8,690.9 713.1,684.5"/>
<polygon class="na" points="781.8,644.7 786.1,645.8 794.7,646.9 805.5,643.6 809.8,640.4 813.0,642.6 814.0,646.9 820.5,647.9 821.6,650.1 815.1,651.2 809.8,653.3 806.5,659.8 804.4,666.2 803.3,671.6 802.2,679.1 801.2,684.5 797.9,682.3 794.7,678.0 788.3,675.9 781.8,673.7 777.5,670.5 778.6,663.0 780.7,655.5"/>
<polygon class="na" points="775.4,673.7 781.8,675.9 788.3,678.0 788.3,684.5 782.9,690.9 779.7,697.4 777.5,706.0 776.4,712.4 781.8,715.6 790.4,718.8 789.3,723.1 788.3,729.6 785.0,737.1 781.8,744.6 777.5,748.9 771.1,751.1 764.6,752.1 759.3,755.4 757.1,751.1 753.9,748.9 751.7,754.3 749.6,758.6 746.4,757.5 745.3,751.1 741.0,748.9 734.5,746.8 730.2,744.6 727.0,742.5 728.1,739.3 732.4,736.0 736.7,731.7 741.0,728.5 746.4,723.1 746.4,716.7 747.4,710.2 749.6,704.9 753.9,700.6 760.3,694.1 766.8,686.6 771.1,680.2"/>
<polygon class="na" points="741.0,769.3 747.4,768.3 751.7,770.4 755.0,774.7 758.2,781.2 753.9,785.5 749.6,791.9 745.3,798.3 738.8,802.6 732.4,806.9 726.0,809.1 719.5,809.1 713.1,810.2 709.8,806.9 712.0,800.5 716.3,796.2 717.4,789.8 719.5,783.3 724.9,779.0 730.2,774.7 735.6,771.5"/>
<polygon class="na" points="826.9,721.0 833.4,719.9 839.8,721.0 844.1,721.0 846.3,725.3 852.7,729.6 854.9,731.7 851.7,737.1 848.4,742.5 845.2,751.1 844.1,759.7 839.8,766.1 834.5,772.6 829.1,776.9 824.8,781.2 822.6,786.5 819.4,787.6 815.1,782.2 809.8,780.1 803.3,779.0 799.0,776.9 794.7,772.6 790.4,768.3 786.1,764.0 781.8,761.8 777.5,760.7 779.7,755.4 784.0,752.1 788.3,748.9 794.7,745.7 799.0,740.3 803.3,735.0 808.7,730.7 814.0,729.6 820.5,727.4 824.8,725.3"/>
<polygon class="na" points="852.7,675.9 859.2,673.7 865.6,674.8 867.8,680.2 866.7,684.5 862.4,688.8 857.0,694.1 854.9,700.6 853.8,706.0 851.7,710.2 847.4,716.7 843.1,721.0 838.8,718.8 833.4,714.5 829.1,710.2 828.0,704.9 830.2,697.4 831.2,688.8 834.5,684.5 839.8,682.3 845.2,680.2"/>
<polygon class="iii" points="872.4,654.3 892.3,648.9 908.6,639.9 917.6,630.8 921.2,621.8 926.6,623.6 928.4,641.7 928.4,674.2 932.0,695.9 937.5,721.2 942.9,742.9 946.5,750.1 933.9,750.1 923.0,757.3 915.8,779.0 912.2,782.7 906.7,775.4 901.3,768.2 892.3,764.6 881.4,757.3 874.2,753.7 863.4,746.5 858.0,742.9 859.8,735.7 856.1,728.4 848.9,728.4 850.7,715.8 859.8,710.4 870.6,714.0 874.2,721.2 876.0,715.8 872.4,710.4 863.4,706.7 856.1,703.1 854.3,695.9 859.8,685.1 867.0,674.2 865.2,663.4"/>
<polygon class="iii" points="845.3,750.1 858.0,742.9 863.4,746.5 874.2,753.7 881.4,757.3 892.3,764.6 901.3,768.2 906.7,775.4 903.1,782.7 897.7,786.3 890.5,789.9 881.4,791.7 874.2,797.1 870.6,804.3 868.8,811.6 859.8,815.2 848.9,817.0 843.5,818.8 841.7,808.0 836.3,797.1 830.8,786.3 825.4,779.0 823.6,775.4 830.8,768.2 838.1,761.0 843.5,753.7"/>
<polygon class="iii_iv" points="924.8,750.1 933.9,750.1 946.5,751.9 950.1,764.6 955.5,782.7 944.7,793.5 935.7,786.3 924.8,780.8 915.8,779.0 923.0,757.3"/>
<polygon class="iii" points="910.4,779.0 915.8,779.0 924.8,780.8 935.7,786.3 944.7,793.5 942.9,804.3 948.3,811.6 946.5,820.6 939.3,822.4 932.0,829.6 930.2,840.5 923.0,844.1 914.0,845.9 908.6,851.3 906.7,860.4 899.5,858.6 892.3,854.9 885.1,860.4 876.0,862.2 872.4,858.6 879.6,849.5 881.4,840.5 883.3,831.4 890.5,822.4 895.9,811.6 897.7,800.7 904.9,786.3"/>
<polygon class="iv" points="901.3,780.8 906.7,784.5 904.9,793.5 897.7,800.7 895.9,811.6 890.5,822.4 883.3,829.6 876.0,827.8 870.6,822.4 868.8,815.2 874.2,809.8 879.6,806.1 886.9,802.5 890.5,797.1 894.1,789.9"/>
<polygon class="na" points="877.8,789.9 886.9,786.3 894.1,788.1 892.3,797.1 886.9,802.5 879.6,806.1 874.2,808.0 872.4,800.7"/>
<polygon class="iii" points="970.0,806.1 971.8,808.0 968.2,817.0 964.6,826.0 966.4,836.9 962.8,844.1 957.3,845.9 951.9,842.3 950.1,835.1 955.5,831.4 961.0,822.4 964.6,813.4"/>
<polygon class="iii" points="977.2,827.8 988.1,826.0 993.5,829.6 1000.7,833.3 1008.0,838.7 1015.2,845.9 1022.4,854.9 1026.0,862.2 1022.4,871.2 1017.0,876.6 1008.0,876.6 1000.7,874.8 989.9,873.0 982.7,876.6 975.4,882.0 973.6,874.8 977.2,869.4 971.8,864.0 975.4,858.6 984.5,860.4 986.3,851.3 979.0,847.7 975.4,840.5"/>
<polygon class="na" points="531.9,801.1 545.6,798.6 551.9,799.9 553.1,806.1 559.4,814.8 558.1,819.8 550.6,824.8 543.1,832.3 538.2,839.8 535.7,844.7 530.7,843.5 525.7,833.5 524.4,827.3 528.2,819.8 530.7,812.3 531.9,806.1"/>
<polygon class="na" points="551.9,816.1 559.4,814.8 561.9,819.8 568.1,827.3 573.1,833.5 574.3,844.7 571.8,854.7 568.1,863.5 563.1,868.4 558.1,867.2 554.4,859.7 550.6,849.7 545.6,847.2 538.2,844.7 535.7,844.7 538.2,839.8 543.1,832.3 550.6,824.8 558.1,819.8"/>
<polygon class="na" points="497.0,819.8 503.2,824.8 510.7,826.0 518.2,832.3 524.4,838.5 525.7,844.7 526.9,853.5 520.7,857.2 513.2,862.2 508.2,865.9 504.5,869.7 500.7,873.4 499.5,878.4 494.5,882.2 488.3,879.7 482.0,880.9 480.8,874.7 482.0,867.2 482.0,857.2 478.3,849.7 479.5,839.8 483.3,837.3 490.8,833.5 494.5,826.0"/>
<polygon class="na" points="609.2,777.4 611.7,778.7 613.0,786.1 615.5,793.6 616.7,801.1 616.7,809.8 620.5,817.3 627.9,822.3 632.9,826.0 634.2,831.0 627.9,832.3 620.5,831.0 613.0,829.8 605.5,828.5 596.8,827.3 595.5,819.8 599.3,813.6 603.0,808.6 605.5,802.4 604.3,794.9 600.5,792.4 605.5,786.1 608.0,779.9"/>
<polygon class="na" points="613.0,832.3 620.5,831.0 627.9,832.3 634.2,831.0 635.4,836.0 642.9,834.8 650.4,838.5 660.4,839.8 667.8,847.2 672.8,851.0 682.8,849.7 691.5,847.2 699.0,851.0 705.3,854.7 711.5,857.2 711.5,909.6 702.8,912.1 695.3,914.6 685.3,918.3 672.8,922.1 662.9,923.3 657.9,919.6 652.9,912.1 647.9,904.6 642.9,902.1 635.4,899.6 629.2,897.1 627.9,892.1 620.5,890.9 614.2,890.9 609.2,889.6 608.0,882.2 609.2,874.7 609.2,867.2 610.5,857.2 611.7,847.2 613.0,839.8"/>
<polygon class="na" points="580.6,878.4 584.3,883.4 593.0,880.9 603.0,879.7 609.2,879.7 609.2,889.6 606.7,893.4 603.0,899.6 598.0,904.6 595.5,902.1 593.0,895.9 588.0,892.1 583.1,894.6 578.1,900.9 570.6,907.1 565.6,910.8 564.3,904.6 566.8,895.9 570.6,889.6 575.6,884.7 579.3,880.9"/>
<polygon class="iii_iv" points="586.8,892.1 590.5,894.6 593.0,895.9 595.5,902.1 598.0,904.6 603.0,900.9 606.7,902.1 608.0,905.9 601.8,907.1 600.5,912.1 603.0,919.6 600.5,927.1 595.5,932.0 590.5,937.0 588.0,942.0 583.1,943.3 578.1,942.0 573.1,939.5 569.3,934.5 565.6,929.5 563.1,924.6 562.6,917.1 565.6,910.8 570.6,907.1 578.1,900.9 583.1,894.6"/>
<polygon class="iii" points="630.4,938.3 636.7,937.0 639.2,939.5 644.2,938.3 642.9,944.5 645.4,949.5 651.6,953.2 655.4,958.2 654.1,964.5 647.9,968.2 645.4,974.4 639.2,973.2 634.2,975.7 629.2,978.2 623.0,979.4 618.0,974.4 615.5,967.0 610.5,962.0 605.5,960.7 601.8,957.0 603.0,949.5 610.5,948.3 615.5,945.8 621.7,943.3 627.9,942.0"/>
<polygon class="iv" points="349.2,774.2 350.6,780.7 354.9,782.1 361.9,780.7 369.0,782.1 370.4,786.4 366.2,790.6 364.8,797.7 360.5,801.9 354.9,803.4 350.6,807.6 347.8,801.9 343.5,800.5 341.3,797.7 346.4,794.9 349.2,789.2 352.0,785.0 349.2,779.3"/>
<polygon class="na" points="377.5,820.4 384.6,818.4 391.7,821.8 398.8,824.6 401.6,827.4 397.3,831.7 391.7,833.1 384.6,835.9 377.5,838.8 371.9,840.2 369.0,835.9 370.4,828.9 373.3,824.6"/>
<polygon class="na" points="238.8,835.9 245.8,831.7 252.9,834.5 261.4,835.9 262.8,841.6 257.2,843.0 255.7,848.7 252.9,851.5 247.3,847.3 241.6,843.0 237.3,840.2"/>
<polygon class="iv" points="354.3,971.9 359.1,970.4 361.9,973.3 369.0,976.1 377.5,974.7 386.0,974.1 391.7,976.1 394.5,980.4 400.2,986.0 401.6,991.7 353.4,991.7"/>
<polygon class="na" points="670.1,854.5 678.7,852.4 689.4,850.2 691.6,847.0 698.0,850.2 704.5,854.5 710.9,858.8 712.0,862.1 706.6,861.0 700.2,859.9 691.6,863.1 686.2,869.6 683.0,876.0 679.8,884.6 679.8,893.2 681.9,906.1 685.1,920.1 676.5,921.2 670.1,922.2 659.3,923.3 657.2,919.0 652.9,912.6 647.5,901.8 648.6,897.5 657.2,891.1 665.8,886.8 667.9,880.3 669.0,867.4"/>
<polygon class="na" points="700.2,859.9 706.6,861.0 712.0,862.1 715.2,866.4 720.6,863.1 722.7,867.4 726.0,869.6 730.2,877.1 728.1,882.5 723.8,886.8 719.5,890.0 715.2,893.2 713.1,899.7 708.8,906.1 704.5,910.4 703.4,913.6 695.9,917.9 689.4,920.1 685.1,920.1 681.9,906.1 679.8,893.2 679.8,884.6 683.0,876.0 686.2,869.6 691.6,863.1"/>
<polygon class="na" points="811.9,804.0 816.2,806.2 819.4,811.6 820.5,819.1 819.4,825.5 818.3,832.0 814.0,836.3 811.9,841.7 807.6,844.9 803.3,848.1 800.1,851.3 795.8,855.6 792.6,861.0 788.3,866.4 786.1,861.0 786.1,850.2 788.3,841.7 787.2,835.2 792.6,833.1 799.0,835.2 801.2,828.8 797.9,824.5 800.1,820.2 805.5,813.7 808.7,808.3"/>
<polygon class="na" points="829.1,813.7 834.5,810.5 840.9,808.3 845.2,809.4 846.3,818.0 846.3,824.5 849.5,828.8 847.4,834.1 845.2,841.7 842.0,848.1 837.7,854.5 831.2,857.8 824.8,859.9 818.3,857.8 815.1,852.4 815.1,846.0 816.2,839.5 818.3,834.1 820.5,826.6 821.6,820.2 824.8,816.9"/>
<polygon class="na" points="397.4,661.1 398.6,662.9 399.2,667.0 401.5,670.5 405.0,674.0 407.4,677.5 408.0,683.4 410.9,690.4 410.3,695.1 407.4,697.4 403.9,698.6 403.3,702.1 406.8,705.6 406.2,710.3 402.7,713.9 396.8,716.8 389.8,717.4 381.6,718.0 378.6,717.4 376.3,715.0 372.8,710.3 369.9,706.8 366.3,703.3 367.5,701.0 372.2,697.4 376.9,694.5 381.6,692.8 383.3,689.2 383.3,686.3 386.3,684.5 389.8,682.2 391.0,678.7 390.4,675.2 391.0,671.7 394.5,668.1 396.2,664.6"/>
<polygon class="iv" points="582.6,520.8 584.3,524.3 587.9,527.9 591.4,530.5 592.3,535.8 590.5,541.0 587.9,544.6 585.2,548.1 580.8,547.2 575.6,544.6 571.2,541.9 568.5,541.0 570.3,537.5 571.2,531.4 573.8,528.7 578.2,527.0 580.8,524.3"/>
<polygon class="iii_iv" points="367.8,282.1 372.8,284.6 379.4,287.9 384.4,290.9 389.4,292.9 396.0,297.8 401.8,302.8 406.0,306.1 404.3,312.8 399.3,316.1 392.7,318.6 387.7,322.7 382.7,321.1 376.1,316.1 369.5,311.1 364.5,306.1 362.0,299.5 360.8,293.7 363.7,287.9"/>
<polygon class="iii" points="387.7,322.7 392.7,318.6 399.3,316.4 404.3,315.8 406.0,321.1 406.8,329.4 406.0,339.3 399.3,340.2 392.7,339.3 386.9,338.5 387.7,331.0"/>
<polygon class="na" points="324.0,578.8 340.4,578.8 339.2,585.9 336.9,591.7 333.4,597.6 328.7,603.4 325.2,608.1 322.8,612.8 321.1,615.2 319.3,611.7 319.9,605.8 321.7,599.9 322.8,594.1 324.6,587.0 322.8,582.3"/>
<polygon class="na" points="355.6,595.2 357.4,598.8 359.2,603.4 359.7,605.2 356.8,608.1 353.9,611.7 352.1,615.2 351.5,621.0 349.8,626.9 347.4,631.6 344.5,636.3 342.2,641.0 340.4,645.6 334.5,648.0 327.5,649.2 322.8,646.8 320.5,643.3 321.1,636.3 322.2,631.6 325.2,629.2 328.7,626.9 330.4,623.4 329.9,617.5 331.0,614.0 334.5,612.8 339.2,611.7 343.9,609.3 348.6,605.8 352.1,601.1 353.9,597.6"/>
<polygon class="na" points="327.5,649.2 334.5,648.0 340.4,645.6 339.2,649.2 341.6,652.7 343.9,657.4 342.8,662.1 339.8,664.4 339.2,669.1 345.1,669.1 349.8,670.3 351.0,673.8 347.4,677.3 341.6,680.8 336.9,683.2 332.2,684.3 326.3,685.5 320.5,686.7 315.8,685.5 313.4,683.2 311.7,678.5 309.9,675.0 308.2,670.8 309.9,666.7 312.3,663.2 315.8,659.7 320.5,657.4 324.0,655.0 326.3,651.5"/>
<polygon class="na" points="366.8,630.4 369.7,631.6 370.9,635.1 374.4,636.3 379.1,637.4 383.8,637.4 386.7,638.6 387.9,643.3 386.1,648.0 383.8,651.5 382.6,653.9 379.1,656.2 374.4,659.7 370.9,663.2 368.5,666.7 368.0,671.4 367.4,676.1 365.0,679.6 360.3,683.2 357.4,682.0 355.1,679.6 352.1,677.3 351.0,673.8 349.8,670.3 345.1,669.1 339.2,669.1 339.8,664.4 342.8,662.1 343.9,657.4 341.6,652.7 339.2,649.2 340.4,645.6 345.1,643.9 351.0,642.1 355.6,639.8 360.3,637.4 363.9,633.9"/>
<polygon class="iii" points="294.8,728.9 297.9,730.3 300.6,732.6 306.1,733.7 306.7,735.7 304.7,738.5 302.0,741.2 299.2,743.9 297.9,747.3 294.4,750.8 295.1,754.2 296.5,758.3 297.2,762.4 296.5,767.9 292.4,769.2 286.9,770.6 282.8,772.6 280.8,774.0 278.7,774.7 272.6,776.7 269.1,779.5 267.8,781.5 263.7,782.9 260.9,783.6 258.9,780.2 259.6,774.7 265.0,773.3 267.8,771.3 270.5,767.9 276.0,763.8 280.1,759.6 284.2,756.2 287.6,752.1 288.3,748.7 287.3,743.9 290.3,741.9 291.4,739.1 291.7,735.0 293.1,731.6"/>
<polygon class="na" points="952.2,255.2 956.1,251.3 959.9,250.4 963.2,249.9 965.6,249.4 969.4,248.9 974.2,249.4 971.4,253.2 965.6,257.1 960.8,259.9 956.1,261.9 953.2,262.8 951.3,259.9"/>
</g>
<g id="extra">
<path d="M990.3,238.4 L988.3,237.5 L987.9,235.3 L986.3,233.8 L984.1,234.4 M977.3,245.3 L976.3,243.4 L974.1,242.9 M966.4,261.4 L966.7,259.2 L965.6,257.3 L964.8,255.2 L962.7,254.5 L960.6,254.3 M984.1,259.0 L982.3,260.2 L980.2,261.1 L979.3,263.1 M959.3,264.9 L957.3,264.0 L955.3,263.0 L954.4,261.0 M979.9,273.6 L977.7,274.0 L975.6,273.3 L973.5,273.9 M986.0,257.1 L986.6,255.0 L988.8,254.7 L989.9,252.8 L990.5,250.7 L992.3,249.4 M956.1,263.0 L955.4,260.9 L954.1,259.2 L952.7,257.5 L952.9,255.3 M969.0,264.2 L970.6,265.8 L969.8,267.8 L967.7,268.7 L966.5,270.5 M975.4,263.1 L977.6,262.6 L979.8,262.7 L982.0,262.9 L983.8,261.6 L984.7,259.6 M995.2,251.8 L995.3,249.6 L995.1,247.5 L995.2,245.3 L997.0,244.0 L999.1,244.3 M1002.2,246.9 L1000.0,247.1 L998.0,247.9 L996.8,249.8 L997.8,251.8 M962.3,262.6 L964.3,261.6 L964.0,259.4 L963.4,257.3 M974.5,258.8 L976.5,258.0 L978.5,259.0 M985.1,251.9 L983.1,252.6 L982.7,254.8 L984.4,256.2 L986.6,256.2 L988.1,254.6 M988.2,241.5 L987.6,243.6 L987.2,245.8 L988.7,247.4 L990.2,249.0 M980.6,264.0 L979.8,262.0 L979.1,259.9 L977.1,259.0 M963.2,267.3 L961.3,266.2 L959.8,264.6 L959.6,262.4 L960.8,260.6 M976.3,268.6 L977.6,270.4 L979.8,269.9 L980.2,267.7 L979.6,265.7 L977.9,264.3 M978.9,274.2 L979.9,272.2 L978.9,270.3 L977.8,268.4 L976.0,267.1 M1004.7,249.6 L1005.4,247.5 L1007.2,246.3 M995.8,255.2 L998.0,255.5 L998.8,257.5 L998.4,259.7 L998.3,261.9 M995.4,238.9 L997.6,238.6 L999.8,238.8 L1002.0,238.8 M990.6,260.7 L989.3,258.9 L987.5,257.6 L985.9,256.1 L983.7,256.4 L983.2,258.6 M978.1,271.5 L976.8,269.7 L974.6,269.2 L972.5,268.7 M996.6,248.9 L995.0,250.4 L992.9,250.8 L991.3,249.3 M982.8,269.6 L984.5,268.2 L986.2,266.9 L985.8,264.8 M978.5,242.9 L980.1,241.4 L981.6,239.8 L983.7,239.2 M985.0,248.9 L983.5,247.3 L981.3,247.6 L979.1,247.6 L977.3,248.9 L976.4,250.9 M997.1,256.4 L994.9,255.8 L993.0,254.8 M982.1,256.6 L981.4,254.5 L982.3,252.5 L983.1,250.5 L982.7,248.3 L982.4,246.1 M977.2,251.6 L976.6,253.8 L977.6,255.7 L979.3,257.1 M974.3,245.8 L976.5,246.3 L977.1,248.4 L978.3,250.3 L979.5,252.1 L978.2,253.9 M1000.4,242.0 L998.9,243.7 L998.9,245.9 L999.7,247.9 L999.5,250.1 L1001.4,251.2 M984.9,253.6 L987.0,253.9 L989.1,253.2 L990.7,254.8 L992.9,254.4 M1005.2,244.8 L1005.7,242.7 L1004.1,241.3 M997.4,246.6 L997.3,248.8 L996.2,250.7 L994.0,250.7 L991.8,251.2 L989.7,251.5 M982.7,255.9 L983.9,257.7 L984.1,259.9 L984.8,262.0 L986.9,262.5 M998.7,238.8 L998.9,236.6 L997.3,235.1 M977.2,273.3 L975.7,271.7 L973.6,271.2 M996.3,247.4 L994.5,248.5 L992.3,248.1 L991.9,246.0 M982.6,245.5 L980.4,245.4 L978.3,245.1 L977.2,243.2 L978.6,241.4 L979.0,239.2 M994.6,241.1 L996.3,242.6 L998.3,241.7 M991.1,251.1 L989.0,250.5 L987.3,249.1 L985.3,249.8 L984.3,251.8 M974.2,249.0 L975.9,247.6 L977.9,248.4 L980.1,248.3 L982.2,247.5 M980.4,256.2 L982.5,256.8 L983.6,258.7 M961.9,259.7 L961.0,261.7 L961.4,263.8 L961.4,266.0 L961.3,268.2 M995.8,262.6 L996.7,260.6 L998.5,259.3 L1000.3,258.0 L1001.2,256.0 L1002.6,254.3 M993.9,256.6 L992.0,255.5 L991.1,253.5 L990.5,251.4 M989.8,238.9 L990.3,241.0 L991.3,243.0 L992.6,244.8 L994.8,244.5 M995.6,255.0 L995.0,252.9 L995.8,250.8 L995.1,248.7 L995.3,246.5 M979.6,270.4 L980.6,272.4 L980.9,274.5 L980.5,276.7 L982.2,278.2 M995.4,248.0 L993.4,247.1 L991.3,246.4 M966.0,255.6 L965.3,253.6 L964.4,251.6 L962.3,251.1 L961.4,249.0 M979.5,269.3 L980.8,271.2 L982.4,272.6 L982.1,274.8 L980.1,275.6 L979.7,277.8 M987.6,261.5 L986.2,263.3 L986.2,265.4 M981.4,254.0 L981.1,256.2 L981.5,258.4 L983.4,259.4 M972.4,248.8 L973.2,250.9 L971.8,252.6 L969.8,253.4 L967.9,252.3 L965.7,252.1 M974.7,251.6 L976.8,250.9 L978.7,249.8 M969.8,274.1 L970.2,276.3 L971.4,278.1 L971.3,280.3 L969.8,281.9 M996.5,251.9 L998.6,251.4 L999.1,249.2 L1000.7,247.7 M979.1,266.5 L977.7,264.9 L978.3,262.8 L979.2,260.7 L978.4,258.7 M977.1,247.0 L977.5,249.2 L979.1,250.7 L980.7,252.1 L981.7,254.1 M960.6,262.0 L962.4,263.2 L964.3,264.3 L966.5,264.4 L968.2,265.8 L970.1,267.0 M984.5,245.5 L986.2,246.8 L988.3,247.6 M999.1,243.7 L1001.3,243.4 L1003.3,244.3 L1005.4,243.8 L1006.9,242.2 L1009.1,241.7 M981.7,259.2 L982.3,261.3 L981.0,263.0 L980.2,265.0 M990.0,253.3 L991.1,255.2 L992.4,256.9 M980.1,254.0 L978.8,252.2 L977.6,250.3 L977.3,248.1 M990.1,267.0 L989.8,269.2 L991.4,270.8 M988.9,257.2 L988.4,259.4 L989.0,261.5 M1006.6,243.3 L1008.6,244.3 L1010.8,244.3 M979.6,275.1 L978.2,273.4 L976.0,273.0 L974.0,273.8 M981.7,263.3 L980.9,265.3 L980.3,267.5 L980.5,269.7 L980.7,271.8 M992.8,265.1 L992.8,267.3 L991.4,269.0 L989.3,269.7 L987.2,270.3 L986.0,272.1 M1008.1,248.3 L1008.9,246.2 L1008.4,244.1 L1009.9,242.4 M960.0,261.2 L958.2,259.9 L958.4,257.7 L956.5,256.5 M987.2,252.6 L986.1,250.6 L987.1,248.7 L989.2,248.2 M1006.0,249.0 L1008.2,249.1 L1010.2,250.0 L1012.3,250.3 L1014.5,250.0 L1016.4,248.8 M1007.3,240.5 L1009.2,239.4 L1011.4,239.7 L1013.5,239.0 M998.8,239.0 L997.6,237.2 L998.5,235.2 L997.8,233.1 M974.2,272.5 L976.3,271.6 L978.4,271.4 L980.5,270.7 L982.3,269.3 L983.9,267.9 M998.8,237.9 L997.5,239.7 L997.0,241.9 M988.4,246.2 L990.0,244.7 L990.7,242.6 L992.3,241.2 L994.3,240.1 M959.9,265.0 L957.9,264.0 L957.7,261.8 L959.0,260.1 L958.6,257.9 L958.0,255.8 M970.8,264.0 L972.7,265.2 L974.9,265.4 L977.1,264.9 M997.6,238.6 L999.4,239.9 L1001.4,239.1 L1001.5,236.9 M984.8,248.9 L985.9,250.8 L987.8,251.8 M981.7,264.8 L981.0,266.8 L980.4,269.0 L978.4,269.7 M967.0,257.7 L968.6,256.2 L969.3,254.1 M978.4,243.1 L976.8,244.5 L974.9,245.7 L973.7,247.5 L972.9,249.6 M966.8,268.9 L964.6,268.8 L962.4,268.9 M974.7,271.2 L972.6,270.5 L971.0,269.0 L969.0,270.0 L966.8,270.3 M993.6,249.8 L995.3,248.6 L995.9,246.4 L995.1,244.4 L994.8,242.2 M990.3,243.8 L992.5,243.5 L994.5,242.5 L996.6,242.1 L997.5,240.1 M980.9,252.3 L982.2,250.5 L981.4,248.4 L979.4,247.6 M992.8,252.3 L992.7,254.5 L994.7,255.6 L995.7,257.6 L994.7,259.5 M989.9,251.5 L988.3,253.1 L988.3,255.3 M986.2,250.5 L984.3,249.3 L982.6,247.9 L981.4,246.1 M1004.8,239.0 L1004.2,236.9 L1002.4,235.8 L1000.2,235.4 L998.4,236.6 M975.3,266.6 L974.9,264.4 L976.1,262.6 L975.1,260.7 M1004.9,248.4 L1002.8,249.1 L1000.7,248.7 L998.9,247.3 L998.9,245.1 L999.7,243.1 M988.3,243.5 L987.6,245.6 L985.4,246.1 L984.3,248.0 M991.2,248.8 L989.4,250.0 L987.3,250.6 L985.6,252.0 L984.3,253.8 L982.6,255.3 M977.7,262.7 L976.7,264.6 L978.2,266.3 L977.2,268.3 L976.4,270.3 L975.9,272.5 M988.5,269.3 L989.1,267.2 L987.7,265.6 L985.7,264.5 L983.6,264.1 L982.2,262.4 M982.1,262.6 L983.7,261.1 L985.9,260.7 L987.8,261.7 M982.1,251.0 L982.3,248.8 L980.6,247.5 L979.3,245.7 M992.6,239.9 L994.7,240.6 L995.8,242.5 L995.3,244.7 L994.0,246.4 L992.0,247.3 M966.2,269.9 L964.1,270.1 L962.6,268.5 L960.5,267.9 L959.3,266.0 M1005.3,244.0 L1006.1,246.1 L1008.3,246.3 L1010.0,244.9 M963.3,267.9 L964.4,269.8 L966.1,271.2 M989.1,251.7 L989.1,249.5 L988.4,247.4 L986.4,246.5 L984.2,246.5 M970.4,256.7 L968.7,258.0 L966.5,258.1 L964.8,259.6 L964.0,261.6 M988.9,252.7 L989.2,254.8 L990.8,256.3 M966.4,259.5 L964.3,259.0 L963.1,257.1 L961.0,256.7 M993.4,254.0 L994.0,256.2 L993.2,258.2 L992.8,260.4 M989.9,258.7 L988.3,260.1 L986.5,261.4 L984.8,262.8 L984.6,265.0 L986.5,266.0 M1004.9,239.7 L1002.7,240.0 L1001.3,241.7 L999.5,243.0 M982.2,261.9 L983.1,259.9 L981.8,258.2 L981.1,256.1 M980.6,257.7 L978.4,258.1 L976.3,258.7 L974.2,258.0 L972.1,257.6 L970.1,258.6 M968.7,258.3 L967.4,260.0 L965.2,259.7 L964.2,257.8 L962.0,257.6 M982.2,242.4 L984.2,243.4 L985.3,245.3 L987.0,246.6 M1003.1,249.0 L1003.4,251.2 L1003.5,253.3 L1005.6,254.0 L1007.1,252.5 L1009.2,253.1 M966.9,272.0 L968.1,270.1 L967.1,268.2 L968.2,266.3 L967.4,264.2 L965.2,264.0 M992.6,261.6 L990.4,261.2 L988.4,260.3 M974.2,269.2 L976.3,268.7 L978.4,269.6 M993.6,251.3 L995.4,252.5 L997.4,251.5 L999.5,252.2 M993.9,250.6 L991.8,251.2 L989.6,251.2 L988.6,253.2 L988.1,255.3 L987.9,257.5 M997.1,249.7 L997.6,247.6 L999.5,246.4 L1001.5,245.6 M969.9,253.4 L968.4,251.9 L969.1,249.8 L967.5,248.3 L965.8,246.9 M981.4,268.4 L981.8,270.5 L980.0,271.9 L978.3,273.2 L976.3,274.1 L975.6,276.2 M985.3,239.7 L984.7,241.8 L984.7,244.0 M1003.7,238.9 L1004.8,237.1 L1005.0,234.9 M977.8,257.9 L976.6,259.8 L977.3,261.9 L977.5,264.1 M992.4,260.4 L994.5,261.0 L995.4,263.0 L996.6,264.9 L997.5,266.9 M972.0,254.5 L971.5,252.4 L969.6,251.4 L967.5,250.5 L967.0,248.4 M970.7,264.5 L972.7,263.5 L974.4,264.9 L975.1,267.0 M987.6,249.8 L988.9,251.5 L988.0,253.5 L985.8,253.4 M963.1,262.6 L961.5,264.1 L959.3,264.2 L957.4,263.1 M978.2,243.5 L976.1,242.8 L975.5,240.7 M1001.7,253.4 L1002.2,255.6 L1004.2,256.5 L1005.9,257.9 L1007.8,258.9 M977.9,259.1 L979.5,257.6 L981.6,256.9 L983.8,257.0 L985.1,258.7 L985.8,260.8 M986.5,244.8 L987.7,246.7 L989.5,247.9 M989.0,239.4 L986.8,239.4 L984.7,238.7 L982.6,239.3 L980.6,240.3 L978.8,241.5 M988.6,252.3 L989.6,250.4 L989.8,248.2 L987.8,247.2 M966.1,265.0 L968.2,264.5 L968.9,262.4 L970.1,260.5 M984.1,265.1 L981.9,264.8 L979.8,265.0 L978.5,263.1 L976.4,262.5 M992.1,251.6 L993.4,249.8 L995.2,248.5 M989.5,245.8 L990.3,247.9 L991.4,249.8 M977.4,264.3 L978.0,266.4 L979.6,268.0 L981.4,269.2 L981.2,271.3 M964.7,262.0 L963.5,260.1 L963.1,257.9 L964.3,256.1 M999.5,254.8 L997.7,256.0 L996.0,257.4 L993.8,257.5 M966.8,264.5 L966.8,262.3 L966.8,260.1 L968.3,258.5 L970.5,258.2 L972.4,257.2 M990.5,248.6 L988.4,248.0 L986.2,248.1 M990.6,245.7 L990.7,247.9 L992.4,249.4 L994.2,250.7 M997.8,244.0 L995.7,244.8 L993.5,244.5 L992.8,242.4 M984.5,261.7 L983.0,263.3 L981.4,264.8 L979.2,265.2 L977.1,265.8 L975.3,264.6 M984.9,246.3 L985.3,248.5 L985.3,250.7 L985.5,252.9 M987.4,265.8 L988.7,267.6 L989.8,269.5 L990.0,271.7 L988.5,273.3 M974.8,252.7 L976.0,250.8 L976.5,248.7 M996.2,241.3 L996.1,243.5 L996.7,245.6 L995.6,247.5 L995.1,249.6 L994.7,251.8 M983.3,267.3 L984.6,269.1 L986.6,269.8 L988.3,268.4 L989.0,266.3 L989.0,264.1 M981.5,249.2 L982.6,251.1 L982.9,253.3 L981.8,255.1 L981.5,257.3 M986.7,261.7 L986.6,259.5 L986.8,257.3 M976.6,259.1 L977.1,261.3 L979.0,262.5 M988.4,261.3 L986.5,260.2 L985.2,258.4 M979.5,267.0 L979.6,269.2 L980.1,271.3 L982.1,272.1 M1002.6,241.1 L1000.6,241.8 L999.5,243.8 L1000.8,245.5 L1003.0,245.1 M985.5,259.3 L987.6,258.5 L987.8,256.3 L986.2,254.8 L986.0,252.6 L986.2,250.4 M989.9,244.2 L991.5,245.7 L993.5,244.8 M1001.9,244.4 L1003.9,243.6 L1006.1,243.8 L1008.0,242.8 L1010.2,243.0 L1011.9,241.6 M994.7,238.9 L993.0,237.4 L993.4,235.2 L992.5,233.2 L994.0,231.6 L996.0,230.8 M994.7,242.2 L996.5,241.0 L997.6,239.1 L999.8,239.1 L1001.6,240.3 L1003.5,241.4 M963.0,268.6 L961.7,266.8 L961.8,264.6 L962.2,262.5 L961.6,260.4 L959.4,259.9 M1000.1,249.1 L999.9,246.9 L1000.2,244.7 M971.1,253.1 L972.4,251.3 L973.0,249.2 L974.8,247.9 L975.5,245.8 L975.9,243.7 M992.4,248.7 L991.7,250.8 L989.7,251.8 L987.8,250.9 M985.9,246.7 L986.4,244.6 L985.0,242.9 L983.7,241.1 L984.0,238.9 L982.7,237.1 M967.0,260.5 L967.1,258.3 L969.0,257.2 L971.1,256.6 L971.3,254.4 L970.9,252.3 M984.1,257.6 L984.1,259.8 L983.6,261.9 M983.1,255.1 L980.9,255.4 L979.9,257.4 L977.8,258.2 M970.1,259.3 L969.9,261.5 L968.0,262.5 L966.0,263.6 M1002.3,250.8 L1001.2,252.7 L999.7,254.3 M973.2,256.9 L975.0,255.7 L977.1,256.3 M985.5,259.7 L986.4,261.7 L985.0,263.4 L982.9,264.0 L981.0,262.9 M1007.8,245.9 L1008.1,248.1 L1009.0,250.1 L1011.2,250.0 M993.3,255.5 L995.5,255.3 L997.7,255.8 M974.6,245.1 L972.5,244.5 L970.4,245.2 L968.7,246.5 M1000.7,237.3 L999.1,235.8 L996.9,236.1 L994.9,235.1 L994.9,232.9 L995.7,230.8" fill="none" stroke="#111" stroke-width="0.7" stroke-linejoin="round"/>
<path d="M896.1,339.6 L896.1,337.4 L895.4,335.3 M899.1,325.1 L898.7,327.3 L900.1,329.0 L900.6,331.2 L902.8,331.5 L904.5,332.9 M916.5,314.9 L918.5,315.9 L920.5,315.2 L922.5,314.2 L922.8,312.0 M906.8,330.3 L905.8,332.2 L904.2,333.7 L904.2,335.9 M909.6,337.0 L911.7,337.8 L913.8,338.1 L915.5,336.7 M895.2,356.1 L895.3,358.3 L897.2,359.5 L899.1,360.5 M902.1,310.4 L900.0,309.9 L898.8,308.0 L896.6,307.7 M900.5,317.6 L902.4,318.7 L904.6,318.8 L905.8,320.6 M896.0,365.3 L898.2,365.6 L900.4,365.6 L902.1,367.0 L901.7,369.2 M895.7,324.1 L897.7,323.2 L899.9,322.7 L900.8,320.7 L900.2,318.6 L900.9,316.6 M909.5,313.3 L909.8,315.4 L908.9,317.5 M911.1,311.8 L912.2,313.8 L914.3,314.5 L916.0,313.1 M910.2,327.3 L909.9,325.2 L908.9,323.2 M895.6,342.7 L895.7,340.5 L897.6,339.4 M901.9,358.2 L901.4,360.4 L899.2,360.7 L898.5,362.8 M909.2,338.5 L910.7,336.8 L911.9,335.0 L913.2,333.2 L912.6,331.1 M909.6,354.6 L911.8,354.2 L913.5,355.6 L914.8,357.3 L914.2,359.4 M895.9,307.3 L895.7,305.1 L895.7,302.9 L895.8,300.7 L893.9,299.7 L894.0,297.5 M893.7,312.3 L895.3,313.9 L894.6,316.0 L896.3,317.4 L895.9,319.6 M910.4,317.6 L911.7,315.8 L913.6,314.7 L913.9,312.6 L915.8,311.4 L918.0,311.4 M902.5,333.5 L903.9,335.2 L903.5,337.3 M904.0,315.3 L903.1,317.3 L903.8,319.4 L902.9,321.4 L900.7,321.6 L898.7,322.4 M900.1,356.1 L899.5,354.0 L897.3,353.5 L895.1,353.8 L893.1,354.5 L891.1,353.5 M896.9,326.8 L894.8,325.9 L894.7,323.7 L896.6,322.5 L897.4,320.5 M900.1,342.3 L900.8,344.4 L901.8,346.4 L902.8,348.3 M915.1,302.4 L915.8,300.4 L917.1,298.6 L918.9,297.2 L921.1,297.4 M890.1,323.3 L890.8,325.4 L889.2,326.9 M903.1,318.0 L901.1,318.8 L899.0,319.5 L897.2,318.3 M895.3,349.2 L896.9,347.6 L898.7,346.4 L900.8,345.6 L903.0,345.6 M893.0,347.5 L890.8,347.4 L888.6,347.5 L886.7,348.6 L885.7,350.6 M893.6,334.3 L894.4,336.4 L895.8,338.1 L895.4,340.2 L896.3,342.2 L897.0,344.3 M902.4,319.1 L903.3,317.1 L901.9,315.5 L900.6,313.7 L899.9,311.6 M897.7,344.0 L895.6,344.5 L893.6,343.7 L891.6,342.7 L891.7,340.5 L892.7,338.6 M908.1,309.5 L907.1,311.5 L906.0,313.4 L904.1,314.4 L901.9,314.2 M911.1,331.8 L911.1,329.6 L909.3,328.3 L907.3,327.4 M904.3,308.0 L902.8,309.6 L900.7,310.0 L899.0,308.5 M906.2,325.4 L904.6,327.0 L903.8,329.1 L903.6,331.2 L903.4,333.4 L902.6,335.5 M907.5,300.6 L906.8,298.5 L905.2,297.0 L903.8,295.3 L903.9,293.1 L903.6,290.9 M898.7,315.6 L898.7,313.4 L900.4,312.0 L902.6,312.2 L903.4,314.2 M893.1,328.6 L892.8,326.4 L891.4,324.7 M915.5,320.1 L913.4,319.4 L913.3,317.2 L913.3,315.0 L913.3,312.8 M908.7,326.1 L907.5,328.0 L908.8,329.8 L911.0,329.6 L912.6,328.1 M899.7,333.5 L900.3,331.4 L902.5,331.0 L904.6,330.5 M900.7,341.8 L902.7,342.7 L903.9,344.6 L906.1,344.7 L908.2,344.1 M898.3,305.2 L899.5,307.0 L898.7,309.1 L897.0,310.5 M915.3,328.2 L914.9,330.4 L916.0,332.3 L915.1,334.3 L914.7,336.4 M888.4,337.8 L889.3,339.8 L891.5,339.7 M904.4,361.2 L902.4,362.2 L900.2,362.2 M892.8,333.3 L892.1,331.3 L893.3,329.4 L894.6,327.7 L894.2,325.5 M892.9,340.2 L895.0,339.8 L895.8,337.7 M901.6,328.8 L903.1,327.2 L904.9,326.0 M891.1,316.0 L892.0,318.1 L894.1,318.5 M897.8,330.1 L897.4,332.3 L897.5,334.5 M911.2,303.1 L913.4,302.5 L913.8,300.4 L915.9,299.7 M914.2,321.1 L915.2,319.2 L916.6,317.5 L918.7,318.0 L920.9,318.5 L921.4,320.7 M894.3,326.1 L893.5,324.1 L892.1,322.4 L891.8,320.2 M889.3,311.5 L887.2,310.7 L885.1,311.0 M904.7,307.8 L902.5,308.2 L900.3,307.8 L899.7,305.7 L898.7,303.7 L899.8,301.8 M904.4,326.0 L902.9,327.6 L903.8,329.6 L903.7,331.8 L904.5,333.9 M891.5,347.2 L893.2,348.6 L893.6,350.7 L893.8,352.9 L894.1,355.1 M912.2,316.2 L910.1,316.8 L908.3,318.0 L906.4,317.0 M893.2,363.5 L891.8,361.8 L891.3,359.7 L892.8,358.1 M903.8,327.1 L902.5,325.3 L900.3,325.2 L898.1,325.0 M904.1,318.2 L902.2,317.0 L901.2,315.0 L899.1,314.5 L897.7,316.2 L895.7,317.1 M909.0,351.9 L908.4,354.0 L909.7,355.7 L910.8,357.6 M898.2,333.5 L896.6,335.0 L896.9,337.2 M895.8,354.6 L894.4,356.2 L892.2,356.0 L890.6,354.5 L890.9,352.3 M914.4,309.0 L914.7,311.1 L913.5,313.0 M908.9,359.9 L910.8,359.0 L912.9,359.8 L915.1,359.9 L917.2,360.6 L919.2,359.7 M890.2,361.0 L889.5,358.9 L889.3,356.7 M900.4,350.6 L901.4,352.6 L901.7,354.7 M893.8,333.3 L891.9,332.2 L890.3,330.7 L890.7,328.6 L889.2,327.0 L889.0,324.8 M907.7,360.2 L909.8,360.9 L911.3,362.5 M911.7,323.2 L913.9,323.0 L915.9,322.3 L918.1,322.9 L919.1,324.8 L921.0,325.9 M900.2,362.1 L899.5,360.1 L899.6,357.9 L898.3,356.1 L897.9,353.9 L899.1,352.1 M911.7,332.8 L913.7,333.6 L915.7,332.8 L917.9,333.4 L919.9,332.6 M894.9,364.3 L896.4,366.0 L898.5,366.3 L900.6,365.6 L901.4,363.5 M909.4,344.8 L911.5,345.5 L913.1,347.0 L915.2,346.8 M907.2,346.7 L908.3,348.6 L910.3,349.5 L912.0,351.0 M890.3,328.4 L892.5,328.2 L894.6,327.7 L896.6,328.5 M913.4,307.8 L912.9,309.9 L914.6,311.3 L914.5,313.5 L915.3,315.6 M890.0,320.7 L891.8,319.4 L893.4,317.9 L894.5,316.0 M910.8,305.8 L908.8,304.8 L906.8,304.0 L904.6,303.5 L902.7,304.5 M904.1,300.7 L906.2,300.3 L907.7,301.9 L908.5,304.0 L910.3,305.3 M894.4,309.4 L895.6,311.2 L897.6,312.3 L899.7,311.7 L901.9,311.9 L903.2,313.6 M916.5,311.4 L918.1,309.8 L918.9,307.8 L918.1,305.8 L919.0,303.7 M896.8,324.7 L895.9,322.7 L894.0,321.6 L892.1,322.7 L891.9,324.9 M888.1,314.6 L886.4,313.2 L885.1,311.4 L884.5,309.3 M891.1,315.3 L893.2,315.1 L894.0,313.0 L894.4,310.8 L893.3,308.9 L893.3,306.7 M900.3,319.0 L901.1,317.0 L899.7,315.3 L897.6,315.9 L896.1,314.2 L893.9,314.2 M910.0,325.4 L912.1,325.8 L914.3,326.1 L916.5,326.5 L918.6,327.1 M900.3,335.8 L901.1,333.7 L903.3,333.5 L905.5,333.9 M912.8,304.2 L912.1,302.1 L911.1,300.1 L909.5,298.6 L908.5,296.6 M890.9,357.8 L889.8,355.9 L887.7,355.1 M910.4,346.2 L911.5,348.1 L910.4,350.0 L909.9,352.2 L910.8,354.2 M900.8,317.6 L900.8,319.8 L902.6,321.0 L902.8,323.2 M894.7,306.5 L893.0,305.1 L890.8,305.0 L888.6,305.1 L886.4,305.0 M909.0,349.2 L911.2,349.8 L912.8,351.2 M912.4,309.1 L910.3,308.4 L910.0,306.2 M903.2,330.8 L904.6,329.1 L904.6,326.9 L904.4,324.8 M889.5,325.0 L887.3,324.8 L885.1,325.2 L884.7,327.3 L883.7,329.3 L884.3,331.5 M896.2,347.3 L894.0,347.7 L892.4,346.2 M904.7,361.3 L905.6,359.3 L907.7,358.6 L909.8,359.5 M910.3,300.9 L910.9,303.1 L910.3,305.2 L908.1,305.6 M909.9,303.1 L907.8,302.4 L905.6,302.6 M906.0,302.4 L906.9,300.4 L906.2,298.3 L905.3,296.3 M890.0,353.5 L889.0,355.4 L887.3,356.8 L885.1,356.5 L883.0,355.8 M894.6,366.6 L896.6,365.7 L896.5,363.5 L895.7,361.5 L893.6,360.7 M902.7,358.3 L901.3,356.6 L900.4,354.6 M907.4,340.1 L909.3,339.0 L911.0,337.7 L911.6,335.6 M898.2,335.3 L896.9,337.2 L898.0,339.1 L900.1,339.7 M898.2,331.3 L898.1,329.1 L897.1,327.2 L895.4,325.8 L893.6,324.4 L891.4,324.4 M894.5,358.5 L893.8,356.5 L891.7,355.7 L889.5,355.5 M898.0,338.4 L898.3,336.2 L896.5,335.0 L894.9,333.5 M911.6,342.3 L911.5,340.1 L912.9,338.4 L913.0,336.2 L914.5,334.6 M898.2,357.0 L899.1,359.0 L899.0,361.2 L898.0,363.1 L895.8,363.5 L893.9,362.5 M902.8,359.7 L901.8,357.8 L899.8,356.9 L899.3,354.8 L899.6,352.6 M899.6,326.5 L900.3,324.5 L899.3,322.6 L899.3,320.4 M894.6,338.3 L892.4,338.3 L890.9,339.8 L888.7,339.3 L886.7,338.3 M896.3,323.7 L894.2,323.0 L893.7,320.9 L895.0,319.0 L895.3,316.8 L894.0,315.1 M911.1,341.9 L912.6,343.5 L914.4,344.7 M893.0,340.3 L892.9,338.1 L894.1,336.2 M914.8,322.9 L916.9,323.6 L918.7,324.9 L920.6,323.8 M896.9,358.0 L899.1,357.8 L901.1,358.6 L903.3,358.6 L904.4,356.7 L905.0,354.6 M897.3,333.1 L897.5,330.9 L899.4,329.7 L899.1,327.5 L897.9,325.7 M907.7,321.0 L907.2,323.2 L909.0,324.5 L911.2,324.3 L913.4,324.3 M913.7,324.0 L912.1,325.5 L910.3,326.7 L908.3,327.6 L906.1,327.8 M906.0,322.2 L907.4,320.5 L908.7,318.7 L907.7,316.8 L907.4,314.6 M907.6,336.8 L906.3,335.0 L905.2,333.1 L903.3,332.0 L901.1,332.2 M904.6,306.8 L903.6,304.8 L903.2,302.7 L902.4,300.6 L903.9,299.0 M890.4,336.3 L892.1,337.8 L893.3,339.6 L893.4,341.8 M903.6,323.5 L905.3,322.2 L907.0,320.8 L909.1,320.1 L910.8,318.6 L913.0,318.6 M901.4,321.7 L903.5,321.2 L903.9,319.1 M908.3,323.5 L909.1,325.6 L907.7,327.3 L905.6,327.0 L903.6,326.0 L901.4,326.5 M894.6,317.6 L893.0,319.2 L892.2,321.2 L891.7,323.3 M895.5,358.7 L893.3,358.9 L892.1,357.1 L892.2,354.9 M917.4,309.3 L917.6,311.4 L917.9,313.6 M915.3,310.9 L913.4,310.0 L911.6,311.2 L909.4,311.1 L908.0,309.4 L907.8,307.2 M900.7,329.1 L901.2,331.3 L900.2,333.2 L901.0,335.3 L899.7,337.0 M890.8,320.3 L889.5,322.1 L889.9,324.3 L889.3,326.4 L890.8,328.1 M897.5,361.3 L899.2,360.0 L898.8,357.9 L897.2,356.4 L897.0,354.2 M908.8,302.7 L906.7,302.2 L905.0,300.8 L904.2,298.8 M893.7,336.2 L892.4,334.4 L892.7,332.3 M917.5,305.3 L919.5,306.1 L921.7,305.7 L923.0,303.9 M895.0,304.8 L897.2,304.9 L899.4,305.3 M908.8,343.7 L907.1,342.2 L907.8,340.1 L909.9,339.3 L912.1,339.7 M899.4,321.4 L897.8,322.9 L896.8,324.8 L896.1,326.9 M916.5,317.1 L917.2,315.0 L919.1,314.0 L921.3,313.8 L922.3,311.9 L923.9,310.3 M899.6,337.4 L899.0,335.3 L897.5,333.6 L898.4,331.6 L896.8,330.1 L896.3,327.9 M894.1,342.1 L893.2,340.1 L891.0,339.8 L890.4,337.7 L888.7,336.2 L887.7,334.3 M913.2,305.0 L915.4,304.4 L917.4,305.2 L919.6,304.8 M897.7,339.4 L895.9,340.7 L893.7,340.6 L891.6,341.3 M893.1,311.4 L893.3,313.6 L892.7,315.7 L893.8,317.7 M907.6,360.8 L905.5,361.5 L903.5,360.6 L901.6,361.6 L901.0,363.7 M894.6,307.0 L893.4,308.9 L894.4,310.9 L895.8,312.6 L894.7,314.5 M909.0,330.1 L907.0,329.1 L905.0,329.8 L902.8,329.7 M898.4,334.8 L898.4,337.0 L897.0,338.7 L896.7,340.9 L896.2,343.0 M905.6,320.6 L903.5,321.2 L902.1,322.9 L900.9,324.8 L899.7,326.6 M902.5,306.1 L903.5,308.0 L905.0,309.6 L907.1,308.9 L909.1,307.9 M898.4,347.6 L898.1,349.8 L897.3,351.9 L897.7,354.0 L899.4,355.5 L899.4,357.7 M890.7,341.4 L891.5,339.3 L890.8,337.2 L891.9,335.3 L890.9,333.4 M900.9,326.4 L900.7,328.5 L900.2,330.7 M899.3,309.2 L900.3,307.2 L902.1,306.0 M899.5,302.9 L899.9,300.7 L901.6,299.3 L901.4,297.1 L900.0,295.4 M910.9,337.8 L912.3,339.4 L913.8,341.0 L916.0,340.4 M908.9,328.0 L908.2,325.9 L909.5,324.1 L909.0,321.9 L907.7,320.2 L906.4,318.4 M895.4,317.6 L893.8,319.2 L893.1,321.3 L893.0,323.5 L891.2,324.7 M908.5,320.6 L907.1,322.3 L904.9,322.3 L903.1,323.5 L902.5,325.6 L904.0,327.1 M903.9,325.1 L901.7,324.5 L899.9,325.7 L897.9,324.7 L895.7,324.5 L893.5,324.6 M909.4,344.4 L909.3,342.2 L908.7,340.1 M904.8,321.7 L905.5,323.8 L905.2,326.0 L903.5,327.4 L901.5,328.4 L899.7,329.6 M914.9,304.0 L914.8,306.2 L913.0,307.5 M892.3,361.6 L890.3,360.8 L888.7,359.2 L888.0,357.2 M896.0,314.2 L898.1,313.5 L900.3,313.8 L902.4,314.3 M901.6,313.6 L903.6,314.4 L905.2,315.9 M894.8,360.5 L895.8,358.6 L898.0,358.4 L899.3,356.6 M891.6,329.9 L892.8,328.0 L894.7,327.0 L896.0,325.2 L896.1,323.0 M904.2,314.5 L906.1,313.2 L905.7,311.0 L904.8,309.0 M907.2,315.0 L905.2,316.0 L904.6,318.1 M892.4,322.4 L890.3,322.0 L888.6,323.5 M895.9,323.3 L897.7,322.0 L899.7,322.8 L901.8,322.0 L903.2,320.3 L903.6,318.2 M905.4,350.5 L907.1,352.0 L906.9,354.2 L905.1,355.5 L904.5,357.6 L902.4,358.3 M901.0,316.6 L899.2,315.4 L898.8,313.3 L899.9,311.4 M909.9,330.5 L911.3,328.7 L913.0,327.4 M901.4,302.4 L899.2,302.7 L897.2,301.9 M899.9,355.9 L902.1,356.2 L904.0,357.4 L906.0,356.4 M913.6,320.4 L911.8,321.6 L911.6,323.8 M902.5,335.9 L904.7,336.1 L906.8,336.8 L908.4,335.2 L908.7,333.0 L910.8,332.4 M895.6,337.1 L897.6,338.1 L899.5,339.3 L901.7,339.1 M909.2,314.2 L910.4,312.3 L909.8,310.2" fill="none" stroke="#111" stroke-width="0.7" stroke-linejoin="round"/>
<circle cx="928.1" cy="301.4" r="0.6" fill="#222"/><circle cx="931.0" cy="323.3" r="0.6" fill="#222"/><circle cx="928.7" cy="340.1" r="0.6" fill="#222"/><circle cx="923.9" cy="326.0" r="0.6" fill="#222"/><circle cx="927.4" cy="326.8" r="0.6" fill="#222"/><circle cx="940.0" cy="332.0" r="0.6" fill="#222"/><circle cx="923.4" cy="311.1" r="0.6" fill="#222"/><circle cx="935.8" cy="344.2" r="0.6" fill="#222"/><circle cx="922.9" cy="327.8" r="0.6" fill="#222"/><circle cx="937.9" cy="336.7" r="0.6" fill="#222"/><circle cx="929.9" cy="336.5" r="0.6" fill="#222"/><circle cx="932.6" cy="341.4" r="0.6" fill="#222"/><circle cx="922.2" cy="342.3" r="0.6" fill="#222"/><circle cx="931.5" cy="318.3" r="0.6" fill="#222"/><circle cx="924.0" cy="311.0" r="0.6" fill="#222"/><circle cx="938.9" cy="330.5" r="0.6" fill="#222"/><circle cx="925.5" cy="315.5" r="0.6" fill="#222"/><circle cx="925.2" cy="308.9" r="0.6" fill="#222"/><circle cx="927.1" cy="314.9" r="0.6" fill="#222"/><circle cx="944.4" cy="344.9" r="0.6" fill="#222"/><circle cx="940.2" cy="321.6" r="0.6" fill="#222"/><circle cx="933.4" cy="335.1" r="0.6" fill="#222"/><circle cx="942.9" cy="333.8" r="0.6" fill="#222"/><circle cx="936.6" cy="309.0" r="0.6" fill="#222"/><circle cx="936.4" cy="338.1" r="0.6" fill="#222"/><circle cx="940.1" cy="304.2" r="0.6" fill="#222"/><circle cx="938.5" cy="315.7" r="0.6" fill="#222"/><circle cx="925.7" cy="343.5" r="0.6" fill="#222"/><circle cx="937.5" cy="333.6" r="0.6" fill="#222"/><circle cx="925.1" cy="337.3" r="0.6" fill="#222"/><circle cx="943.6" cy="340.7" r="0.6" fill="#222"/><circle cx="939.1" cy="337.5" r="0.6" fill="#222"/><circle cx="940.4" cy="326.6" r="0.6" fill="#222"/><circle cx="932.0" cy="337.1" r="0.6" fill="#222"/><circle cx="940.0" cy="339.2" r="0.6" fill="#222"/><circle cx="928.9" cy="343.2" r="0.6" fill="#222"/><circle cx="934.2" cy="342.6" r="0.6" fill="#222"/><circle cx="924.7" cy="343.6" r="0.6" fill="#222"/><circle cx="940.1" cy="311.3" r="0.6" fill="#222"/><circle cx="941.3" cy="310.4" r="0.6" fill="#222"/>
<polygon points="1008.8,261.3 1015.0,259.2 1017.1,255.0 1020.2,251.9 1027.4,251.4 1030.0,253.0 1030.0,259.2 1024.3,260.7 1017.1,261.3 1013.9,263.8 1009.8,263.8" fill="#dff1fc" stroke="#333" stroke-width="0.7"/>
<polygon points="932.1,291.3 936.3,288.2 941.4,288.7 945.6,291.3 948.7,294.4 945.6,297.5 941.4,296.5 936.3,296.5 933.1,294.4" fill="#aaaaaa" stroke="#333" stroke-width="0.6"/>
<polyline points="925.9,282.0 934.2,289.7" fill="none" stroke="#aaaaaa" stroke-width="2"/>
<polygon points="955.9,286.1 962.2,280.9 967.3,278.3 966.3,283.0 962.2,288.2 958.0,289.7" fill="#aaaaaa" stroke="#333" stroke-width="0.6"/>
<polygon points="943.5,285.1 946.6,283.5 948.7,285.1 947.1,287.2 944.5,287.2" fill="#aaaaaa" stroke="#333" stroke-width="0.6"/>
<path d="M966,293 L958.4,296 L952,302 L948.4,311 L943.4,323.4 L938.4,335.9 L934.7,348.4 L931,360.8 L929,375.8" fill="none" stroke="#333" stroke-width="3.4" stroke-linejoin="round"/>
<path d="M966,293 L958.4,296 L952,302 L948.4,311 L943.4,323.4 L938.4,335.9 L934.7,348.4 L931,360.8 L929,375.8" fill="none" stroke="#aaaaaa" stroke-width="2.1" stroke-linejoin="round"/>
<path d="M931,367 L938,367.5 M930,376 L937,376.5 M938,331 L945,332" stroke="#333" stroke-width="1.2"/>
<path d="M969,486 L974,492 L975,500 L980,507 L983,515 M990,473 L992,485 L995,492 M975,500 L990,498 L998,494 M983,474 L985,484 L981,494 M980,507 L978,520 L974,530 L972,540" fill="none" stroke="#222" stroke-width="0.9"/>
<polygon points="1155.3,189.6 1171.5,187.7 1171.5,193 1163.4,199.8 1159,208.5 1155.3,212.6" fill="#fff" stroke="#333" stroke-width="0.7"/>
</g>
<g stroke="#444" stroke-width="1" fill="none">
<line x1="415.5" y1="36" x2="415.5" y2="987"/>
<line x1="845.5" y1="36" x2="845.5" y2="987"/>
<line x1="83" y1="470.5" x2="1172" y2="470.5"/>
</g>
<polygon points="624.00,494.30 629.58,511.11 647.30,511.23 633.04,521.74 638.40,538.62 624.00,528.30 609.60,538.62 614.96,521.74 600.70,511.23 618.42,511.11" fill="#000"/><polygon points="624.00,505.70 626.88,514.34 635.98,514.41 628.66,519.81 631.41,528.49 624.00,523.20 616.59,528.49 619.34,519.81 612.02,514.41 621.12,514.34" fill="#fff"/>
<rect x="772.5" y="45.5" width="382.5" height="63" fill="#fff" stroke="#000" stroke-width="1"/>
<g style="font-family:'Liberation Sans',Arial,sans-serif;font-size:12.15px" fill="#000">
<text x="777.6" y="59.3">Terremoto del 20-05-2012 04:39:07 (ora locale) ML=4 Prof=7 km</text>
<text x="777.6" y="74.6">Mappa preliminare delle intensità macrosismiche stimate nei comuni</text>
<text x="777.6" y="89.6">Dati non verificati estratti da 287 questionari compilati tramite Internet.</text>
<text x="777.6" y="104">Ultimo aggiornamento: 08-01-2026 20:08 (ora locale)</text>
</g>
<rect x="1053.5" y="171.5" width="99" height="472.5" fill="#fff" stroke="#000" stroke-width="1"/>
<g class="lg" font-weight="bold" text-anchor="middle"><text x="1103" y="188">Scala</text><text x="1103" y="204">Europea</text><text x="1103" y="220">(EMS)</text></g>
<rect x="1074.5" y="229.5" width="57" height="18.5" fill="#aaaaaa" stroke="#000" stroke-width="1"/>
<text class="lg" x="1103" y="243.3" text-anchor="middle" font-weight="bold" style="fill:#f6f6f6">n.a.*</text>
<rect x="1074.5" y="253.6" width="57" height="18.5" fill="#4f64b0" stroke="#000" stroke-width="1"/>
<text class="lg" x="1103" y="267.4" text-anchor="middle" font-weight="bold" style="fill:#fff">II</text>
<rect x="1074.5" y="277.7" width="57" height="18.5" fill="#0832bc" stroke="#000" stroke-width="1"/>
<text class="lg" x="1103" y="291.5" text-anchor="middle" font-weight="bold" style="fill:#fff">III</text>
<rect x="1074.5" y="301.7" width="57" height="18.5" fill="#0c5fd0" stroke="#000" stroke-width="1"/>
<text class="lg" x="1103" y="315.5" text-anchor="middle" font-weight="bold" style="fill:#fff">III-IV</text>
<rect x="1074.5" y="325.8" width="57" height="18.5" fill="#109ae5" stroke="#000" stroke-width="1"/>
<text class="lg" x="1103" y="339.6" text-anchor="middle" font-weight="bold" style="fill:#fff">IV</text>
<rect x="1074.5" y="349.9" width="57" height="18.5" fill="#10c47a" stroke="#000" stroke-width="1"/>
<text class="lg" x="1103" y="363.7" text-anchor="middle" font-weight="bold" style="fill:#000">IV-V</text>
<rect x="1074.5" y="374.0" width="57" height="18.5" fill="#14ef14" stroke="#000" stroke-width="1"/>
<text class="lg" x="1103" y="387.8" text-anchor="middle" font-weight="bold" style="fill:#000">V</text>
<rect x="1074.5" y="398.1" width="57" height="18.5" fill="#b9ef10" stroke="#000" stroke-width="1"/>
<text class="lg" x="1103" y="411.9" text-anchor="middle" font-weight="bold" style="fill:#000">V-VI</text>
<rect x="1074.5" y="422.1" width="57" height="18.5" fill="#fdfd06" stroke="#000" stroke-width="1"/>
<text class="lg" x="1103" y="435.9" text-anchor="middle" font-weight="bold" style="fill:#000">VI</text>
<rect x="1074.5" y="446.2" width="57" height="18.5" fill="#ffc800" stroke="#000" stroke-width="1"/>
<text class="lg" x="1103" y="460.0" text-anchor="middle" font-weight="bold" style="fill:#000">VI-VII</text>
<rect x="1074.5" y="470.3" width="57" height="18.5" fill="#ffa500" stroke="#000" stroke-width="1"/>
<text class="lg" x="1103" y="484.1" text-anchor="middle" font-weight="bold" style="fill:#000">VII</text>
<rect x="1074.5" y="494.4" width="57" height="18.5" fill="#ff6a00" stroke="#000" stroke-width="1"/>
<text class="lg" x="1103" y="508.2" text-anchor="middle" font-weight="bold" style="fill:#000">VII-VIII</text>
<rect x="1074.5" y="518.5" width="57" height="18.5" fill="#f50a0a" stroke="#000" stroke-width="1"/>
<text class="lg" x="1103" y="532.3" text-anchor="middle" font-weight="bold" style="fill:#000">VIII</text>
<text class="lg" x="1103" y="558" text-anchor="middle">*non avvertito</text>
<line x1="1055" y1="568.5" x2="1152" y2="568.5" stroke="#000" stroke-width="1" stroke-dasharray="2,2"/>
<g class="lg" font-weight="bold" text-anchor="middle"><text x="1103" y="584">Epicentro</text><text x="1103" y="600">strumentale</text></g>
<polygon points="1100.50,612.20 1103.03,618.72 1110.01,619.11 1104.59,623.53 1106.38,630.29 1100.50,626.50 1094.62,630.29 1096.41,623.53 1090.99,619.11 1097.97,618.72" fill="#fff" stroke="#000" stroke-width="1.2"/>
<g>
<rect x="155" y="931" width="183" height="5" fill="#000"/>
<rect x="192.4" y="932.2" width="35.9" height="2.6" fill="#fff"/>
<rect x="264.6" y="932.2" width="35.8" height="2.6" fill="#fff"/>
<line x1="155.5" y1="931" x2="155.5" y2="940" stroke="#000" stroke-width="1"/>
<line x1="192.4" y1="931" x2="192.4" y2="940" stroke="#000" stroke-width="1"/>
<line x1="228.3" y1="931" x2="228.3" y2="940" stroke="#000" stroke-width="1"/>
<line x1="264.6" y1="931" x2="264.6" y2="940" stroke="#000" stroke-width="1"/>
<line x1="300.4" y1="931" x2="300.4" y2="940" stroke="#000" stroke-width="1"/>
<line x1="337.5" y1="931" x2="337.5" y2="940" stroke="#000" stroke-width="1"/>
<text class="lab" x="246.5" y="915.5" text-anchor="middle" style="font-size:30px">km</text>
<text class="lab" x="155.6" y="964.3" text-anchor="middle" style="font-size:22px">0</text>
<text class="lab" x="337.5" y="964.3" text-anchor="middle" style="font-size:22px">50</text>
</g>
<defs><path id="hp" d="M1131.78,932.12 A40.5,40.5 0 0 1 1057.22,900.48 A40.5,40.5 0 0 1 1131.78,932.12"/><linearGradient id="tg" x1="0" y1="1" x2="1" y2="0"><stop offset="0" stop-color="#1556b8"/><stop offset="1" stop-color="#12a0e8"/></linearGradient></defs>
<circle cx="1094.5" cy="916.3" r="31.8" fill="#1c1c1c"/>
<circle cx="1094.5" cy="916.3" r="17.2" fill="none" stroke="#e0101c" stroke-width="6"/>
<path d="M1100.3,916.3 L1128.5,901.5 Q1131,900.5 1131,903.5 L1131,930.5 Q1131,933.5 1128.5,932.8 Z" fill="url(#tg)"/>
<circle cx="1095.9" cy="916.3" r="7.9" fill="#e0101c"/>
<circle cx="1144.3" cy="916.5" r="10.3" fill="#e0101c"/>
<text x="1144.3" y="916.5" transform="rotate(90 1144.3 916.5)" dy="4.5" text-anchor="middle" fill="#fff" style="font:bold 13px 'Liberation Sans',sans-serif">?</text>
<text style="font-family:'Liberation Sans',sans-serif;font-size:16.5px" fill="#111"><textPath href="#hp" textLength="218" lengthAdjust="spacingAndGlyphs"><tspan fill="#e0101c" font-weight="bold">www.</tspan><tspan fill="#555" font-weight="normal">hai</tspan><tspan font-weight="bold">sentito</tspan><tspan fill="#555" font-weight="normal">il</tspan><tspan font-weight="bold">terremoto</tspan><tspan fill="#e0101c" font-weight="bold">.it</tspan></textPath></text>
<defs><radialGradient id="gb" cx="0.35" cy="0.25" r="0.8"><stop offset="0" stop-color="#36acd4"/><stop offset="0.55" stop-color="#137aa8"/><stop offset="1" stop-color="#0a5479"/></radialGradient>
<clipPath id="gc"><circle cx="132.2" cy="78.2" r="30"/></clipPath></defs>
<g clip-path="url(#gc)"><circle cx="132.2" cy="78.2" r="30" fill="url(#gb)"/>
<polygon points="135.2,60.6 137.8,55.3 141.5,50.3 145.8,52.0 150.5,55.6 145.8,57.3 140.5,59.3" fill="#1f9a3a"/>
<polygon points="136.2,60.9 141.2,58.6 145.8,57.3 150.5,56.6 151.1,60.6 150.8,64.6 147.1,63.3 143.2,61.9" fill="#e3101e"/>
<polygon points="150.5,55.6 155.1,59.3 159.1,65.2 161.1,71.9 158.4,75.2 156.4,71.9 152.4,67.2 151.1,64.6 151.1,60.6" fill="#c9b8cf"/>
<polygon points="136.5,61.9 143.2,61.9 147.1,63.3 150.8,64.6 151.1,66.6 148.5,69.2 145.8,71.9 141.8,67.9 138.5,63.9" fill="#1f9a3a"/>
<polygon points="135.2,62.6 138.5,63.9 141.8,67.9 145.1,72.6 141.2,74.2 137.8,74.5 134.9,74.5" fill="#f2e014"/>
<polygon points="145.8,71.9 148.5,69.2 151.1,66.6 155.1,69.9 158.4,75.2 156.4,79.2 152.4,83.8 150.5,81.2 148.5,77.2" fill="#f2e014"/>
<polygon points="159.8,71.2 162.7,73.2 162.7,77.2 160.4,75.2" fill="#1f9a3a"/>
<polygon points="134.5,74.5 137.8,74.5 141.2,74.2 145.1,72.6 148.5,77.2 150.5,81.2 151.1,85.2 147.1,87.8 141.2,89.5 134.2,89.8" fill="#e3101e"/>
<polygon points="152.4,83.8 156.4,79.2 158.4,75.2 162.7,77.2 162.7,83.8 159.8,90.5 156.4,95.1 154.4,97.1 153.1,90.5 151.1,85.2" fill="#c9b8cf"/>
<polygon points="154.4,96.5 158.1,92.8 158.8,94.5 155.1,97.8" fill="#e3101e"/>
<polygon points="133.9,89.8 141.2,89.5 147.1,87.8 151.1,85.2 153.1,90.5 154.4,97.1 152.4,101.1 148.5,103.8 143.2,106.4 137.8,108.7 133.2,108.7" fill="#1f9a3a"/>
<path d="M134.9,61.4 L129.2,53.3 L127.2,49.0" fill="none" stroke="#fff" stroke-width="0.9" opacity="0.9"/>
<path d="M134.9,61.4 L139.2,54.6 L141.8,50.0" fill="none" stroke="#fff" stroke-width="0.9" opacity="0.9"/>
<path d="M134.9,61.4 L144.5,57.3 L151.1,56.0" fill="none" stroke="#fff" stroke-width="0.9" opacity="0.9"/>
<path d="M134.9,61.4 L124.6,65.2 L114.6,70.6 L108.0,71.9 L102.0,77.2" fill="none" stroke="#fff" stroke-width="0.9" opacity="0.9"/>
<path d="M134.9,61.4 L125.9,71.9 L117.9,84.5 L114.6,91.8 L112.3,99.8" fill="none" stroke="#fff" stroke-width="0.9" opacity="0.9"/>
<path d="M134.9,61.4 L134.5,77.2 L134.2,90.5 L133.2,108.4" fill="none" stroke="#fff" stroke-width="0.9" opacity="0.9"/>
<path d="M134.9,61.4 L144.5,71.9 L151.1,85.2 L154.4,97.1" fill="none" stroke="#fff" stroke-width="0.9" opacity="0.9"/>
<path d="M134.9,61.4 L151.1,65.9 L161.1,73.2" fill="none" stroke="#fff" stroke-width="0.9" opacity="0.9"/>
<path d="M119.9,56.6 L119.2,63.9 L121.9,69.2 L126.6,73.2 L134.9,74.5 L144.5,72.6 L149.8,69.2" fill="none" stroke="#fff" stroke-width="0.9" opacity="0.9"/>
<path d="M108.6,60.6 L107.3,70.6 L111.3,78.5 L117.9,84.5 L126.6,89.2 L134.2,90.1 L144.5,89.2 L152.4,85.2 L157.8,78.5 L159.8,71.9" fill="none" stroke="#fff" stroke-width="0.9" opacity="0.9"/>
<path d="M103.3,81.2 L106.0,90.5 L113.3,99.1 L123.2,103.8 L133.2,104.8 L144.5,102.4 L153.1,97.1" fill="none" stroke="#fff" stroke-width="0.9" opacity="0.9"/>
<path d="M119.9,56.6 L125.9,55.3 L134.9,57.3 L144.5,56.0" fill="none" stroke="#fff" stroke-width="0.9" opacity="0.9"/>
<path d="M108.6,60.6 L114.6,59.3 L119.9,56.6" fill="none" stroke="#fff" stroke-width="0.9" opacity="0.9"/>
</g>
<g fill="#3a3a3a" font-weight="bold" style="font-family:'DejaVu Sans Condensed','DejaVu Sans',sans-serif;font-size:12.6px">
<text x="170" y="74.7" textLength="89" lengthAdjust="spacingAndGlyphs">ISTITUTO NAZIONALE</text>
<text x="170" y="89.4" textLength="135.3" lengthAdjust="spacingAndGlyphs">DI GEOFISICA E VULCANOLOGIA</text>
</g>
</g>
<!-- frame -->
<g fill="#000">
<rect x="83" y="26" width="332.5" height="11"/>
<rect x="845.5" y="26" width="327.5" height="11"/>
<rect x="83" y="987" width="332.5" height="11"/>
<rect x="845.5" y="987" width="327.5" height="11"/>
<rect x="73" y="36" width="11" height="434.5"/>
<rect x="1172" y="36" width="11" height="434.5"/>
</g>
<g stroke="#000" stroke-width="1" fill="none">
<rect x="73.5" y="26.5" width="1109" height="971"/>
<rect x="83.5" y="36.5" width="1089" height="951"/>
<line x1="73.5" y1="36.5" x2="83.5" y2="36.5"/>
<line x1="1172.5" y1="36.5" x2="1182.5" y2="36.5"/>
<line x1="73.5" y1="987.5" x2="83.5" y2="987.5"/>
<line x1="1172.5" y1="987.5" x2="1182.5" y2="987.5"/>
</g>
<!-- labels -->
<text class="lab" x="415.5" y="17" text-anchor="middle">10°30'</text>
<text class="lab" x="845.5" y="17" text-anchor="middle">12°00'</text>
<text class="lab" x="415.5" y="1022" text-anchor="middle">10°30'</text>
<text class="lab" x="845.5" y="1022" text-anchor="middle">12°00'</text>
<text class="lab" x="63" y="479" text-anchor="end">45°00'</text>
<text class="lab" x="1192" y="479">45°00'</text>
</svg>
</body></html>
